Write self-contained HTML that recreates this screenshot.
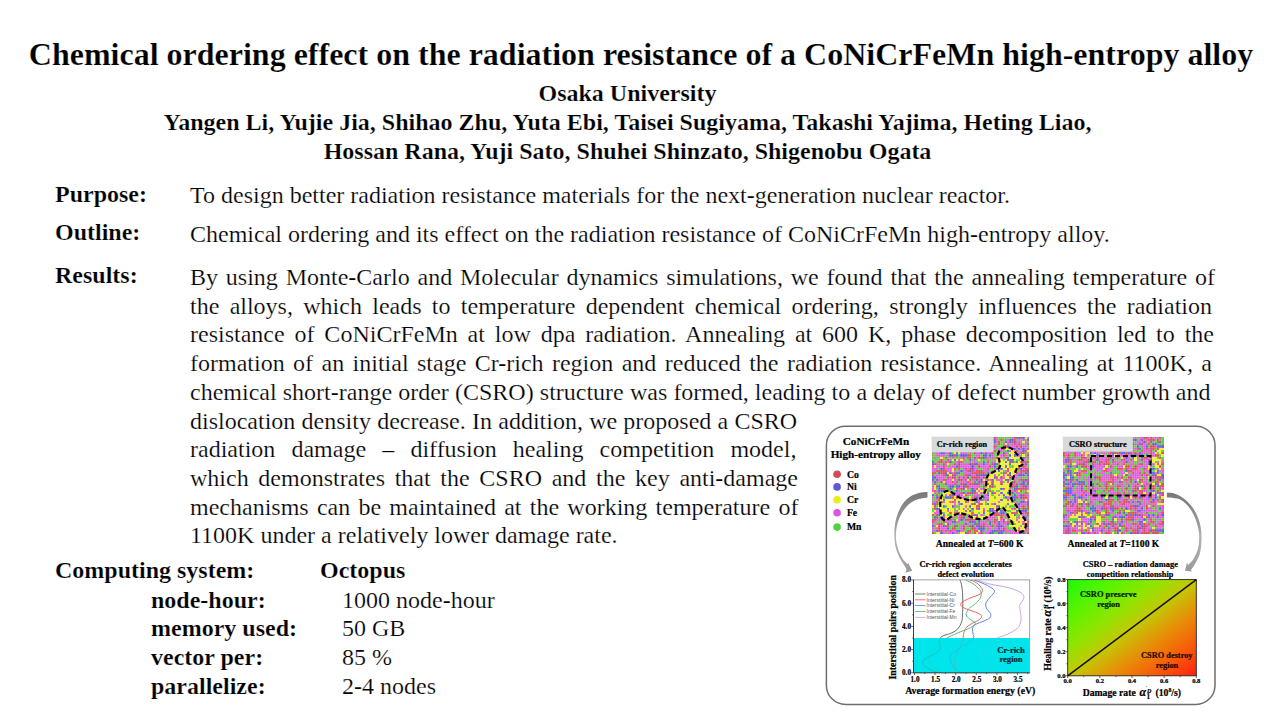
<!DOCTYPE html>
<html><head><meta charset="utf-8">
<style>
html,body{margin:0;padding:0;background:#fff;}
body{width:1280px;height:720px;position:relative;overflow:hidden;-webkit-text-stroke:0.2px #fff;font-family:"Liberation Serif","Times New Roman",serif;color:#000;}
.a{position:absolute;white-space:nowrap;}
#title{left:0;width:1282px;text-align:center;top:34.5px;font-size:32px;font-weight:bold;line-height:38px;}
.hdr{left:0;width:1255px;text-align:center;font-size:24px;font-weight:bold;line-height:29px;}
.lbl{font-weight:bold;font-size:24px;line-height:29px;}
.txt{font-size:24px;line-height:29px;}
#res{position:absolute;left:190px;top:263px;width:1024px;font-size:24px;line-height:28.7px;}
#res .j{text-align:justify;text-align-last:justify;white-space:nowrap;}
#res .n{width:608px;}
</style></head><body>
<div class="a" id="title">Chemical ordering effect on the radiation resistance of a CoNiCrFeMn high-entropy alloy</div>
<div class="a hdr" style="top:79px">Osaka University</div>
<div class="a hdr" style="top:108px">Yangen Li, Yujie Jia, Shihao Zhu, Yuta Ebi, Taisei Sugiyama, Takashi Yajima, Heting Liao,</div>
<div class="a hdr" style="top:137px">Hossan Rana, Yuji Sato, Shuhei Shinzato, Shigenobu Ogata</div>

<div class="a lbl" style="left:55px;top:180px">Purpose:</div>
<div class="a txt" style="left:190px;top:181px">To design better radiation resistance materials for the next-generation nuclear reactor.</div>
<div class="a lbl" style="left:55px;top:218px">Outline:</div>
<div class="a txt" style="left:190px;top:220px">Chemical ordering and its effect on the radiation resistance of CoNiCrFeMn high-entropy alloy.</div>
<div class="a lbl" style="left:55px;top:261px">Results:</div>

<div id="res">
<div class="j" style="width:1025px">By using Monte-Carlo and Molecular dynamics simulations, we found that the annealing temperature of</div>
<div class="j" style="width:1022px">the alloys, which leads to temperature dependent chemical ordering, strongly influences the radiation</div>
<div class="j" style="width:1024px">resistance of CoNiCrFeMn at low dpa radiation. Annealing at 600 K, phase decomposition led to the</div>
<div class="j" style="width:1022px">formation of an initial stage Cr-rich region and reduced the radiation resistance. Annealing at 1100K, a</div>
<div class="j" style="width:1020.5px">chemical short-range order (CSRO) structure was formed, leading to a delay of defect number growth and</div>
<div class="j n" style="width:607.2px">dislocation density decrease. In addition, we proposed a CSRO</div>
<div class="j n" style="width:606.4px">radiation damage – diffusion healing competition model,</div>
<div class="j n" style="width:608px">which demonstrates that the CSRO and the key anti-damage</div>
<div class="j n" style="width:608.4px">mechanisms can be maintained at the working temperature of</div>
<div class="n">1100K under a relatively lower damage rate.</div>
</div>

<div class="a lbl" style="left:55px;top:556px">Computing system:</div>
<div class="a lbl" style="left:320px;top:556px">Octopus</div>
<div class="a lbl" style="left:151px;top:586px">node-hour:</div>
<div class="a txt" style="left:342px;top:586px">1000 node-hour</div>
<div class="a lbl" style="left:151px;top:614px">memory used:</div>
<div class="a txt" style="left:342px;top:614px">50 GB</div>
<div class="a lbl" style="left:151px;top:643px">vector per:</div>
<div class="a txt" style="left:342px;top:643px">85 %</div>
<div class="a lbl" style="left:151px;top:672px">parallelize:</div>
<div class="a txt" style="left:342px;top:672px">2-4 nodes</div>
<!--FIG--><svg id="fig" width="1280" height="720" viewBox="0 0 1280 720" style="position:absolute;left:0;top:0" font-family="Liberation Serif, Times New Roman, serif" font-weight="bold">
<style>#fig text{stroke:#000;stroke-width:0.22px;stroke-linejoin:round}#fig .lg text{stroke:none}</style>
<defs>
<filter id="bl" x="-5%" y="-5%" width="110%" height="110%"><feGaussianBlur stdDeviation="0.4"/></filter>
<linearGradient id="gr" x1="0" y1="0" x2="1" y2="1">
<stop offset="0" stop-color="#1ef80a"/>
<stop offset="0.16" stop-color="#50f500"/>
<stop offset="0.35" stop-color="#8ce600"/>
<stop offset="0.5" stop-color="#c3c805"/>
<stop offset="0.67" stop-color="#e88c08"/>
<stop offset="0.86" stop-color="#fa500a"/>
<stop offset="1" stop-color="#ff2010"/>
</linearGradient>
<linearGradient id="ag" x1="0" y1="0" x2="0" y2="1">
<stop offset="0" stop-color="#787878"/>
<stop offset="0.45" stop-color="#a0a0a0"/>
<stop offset="0.55" stop-color="#b4b4b4"/>
<stop offset="1" stop-color="#9a9a9a"/>
</linearGradient>
</defs>
<rect x="826.4" y="426.2" width="388.6" height="278.2" rx="19" ry="19" fill="none" stroke="#6e6e6e" stroke-width="1.5"/>
<text x="876" y="444.5" font-size="11.2" text-anchor="middle">CoNiCrFeMn</text>
<text x="875.8" y="457.8" font-size="11.2" text-anchor="middle">High-entropy alloy</text>
<g>
<circle cx="837.1" cy="474.3" r="3.8" fill="#d44a55"/>
<circle cx="837.1" cy="486.9" r="3.8" fill="#5a5ad8"/>
<circle cx="837.1" cy="499.8" r="3.8" fill="#ecec1c"/>
<circle cx="837.1" cy="512.8" r="3.8" fill="#e055e0"/>
<circle cx="837.1" cy="527.1" r="3.8" fill="#52d040"/>
</g>
<g font-size="9.7">
<text x="846.9" y="477.6">Co</text>
<text x="846.9" y="490.2">Ni</text>
<text x="846.9" y="503.1">Cr</text>
<text x="846.9" y="516.1">Fe</text>
<text x="846.9" y="530.4">Mn</text>
</g>
<g filter="url(#bl)">
<g transform="translate(931.60 436.60) scale(2.2159 2.2159)" shape-rendering="crispEdges"><path fill="#d44a55" d="M0 0h1v1h-1zM18 0h1v1h-1zM24 0h1v1h-1zM28 0h1v1h-1zM37 0h1v1h-1zM38 0h1v1h-1zM40 0h1v1h-1zM8 1h1v1h-1zM12 1h1v1h-1zM18 1h1v1h-1zM19 1h1v1h-1zM27 1h1v1h-1zM31 1h1v1h-1zM37 1h1v1h-1zM1 2h1v1h-1zM3 2h1v1h-1zM4 2h1v1h-1zM14 2h1v1h-1zM19 2h1v1h-1zM30 2h1v1h-1zM36 2h1v1h-1zM3 3h1v1h-1zM10 3h1v1h-1zM14 3h1v1h-1zM16 3h1v1h-1zM26 3h1v1h-1zM30 3h1v1h-1zM37 3h1v1h-1zM39 3h1v1h-1zM43 3h1v1h-1zM3 4h1v1h-1zM12 4h1v1h-1zM28 4h1v1h-1zM32 4h1v1h-1zM33 4h1v1h-1zM38 4h1v1h-1zM40 4h1v1h-1zM6 5h1v1h-1zM22 5h1v1h-1zM32 5h1v1h-1zM36 5h1v1h-1zM43 5h1v1h-1zM1 6h1v1h-1zM4 6h1v1h-1zM9 6h1v1h-1zM17 6h1v1h-1zM20 6h1v1h-1zM22 6h1v1h-1zM23 6h1v1h-1zM24 6h1v1h-1zM26 6h1v1h-1zM27 6h1v1h-1zM28 6h1v1h-1zM30 6h1v1h-1zM38 6h1v1h-1zM42 6h1v1h-1zM19 7h1v1h-1zM27 7h1v1h-1zM30 7h1v1h-1zM40 7h1v1h-1zM41 7h1v1h-1zM10 8h1v1h-1zM16 8h1v1h-1zM17 8h1v1h-1zM32 8h1v1h-1zM43 8h1v1h-1zM6 9h1v1h-1zM14 9h1v1h-1zM16 9h1v1h-1zM17 9h1v1h-1zM21 9h1v1h-1zM22 9h1v1h-1zM24 9h1v1h-1zM29 9h1v1h-1zM33 9h1v1h-1zM4 10h1v1h-1zM7 10h1v1h-1zM3 11h1v1h-1zM4 11h1v1h-1zM6 11h1v1h-1zM12 11h1v1h-1zM13 11h1v1h-1zM25 11h1v1h-1zM35 11h1v1h-1zM40 11h1v1h-1zM41 11h1v1h-1zM42 11h1v1h-1zM43 11h1v1h-1zM1 12h1v1h-1zM5 12h1v1h-1zM10 12h1v1h-1zM18 12h1v1h-1zM27 12h1v1h-1zM5 13h1v1h-1zM12 13h1v1h-1zM21 13h1v1h-1zM26 13h1v1h-1zM30 13h1v1h-1zM39 13h1v1h-1zM41 13h1v1h-1zM5 14h1v1h-1zM10 14h1v1h-1zM12 14h1v1h-1zM15 14h1v1h-1zM17 14h1v1h-1zM25 14h1v1h-1zM34 14h1v1h-1zM39 14h1v1h-1zM42 14h1v1h-1zM43 14h1v1h-1zM2 15h1v1h-1zM3 15h1v1h-1zM4 15h1v1h-1zM5 15h1v1h-1zM6 15h1v1h-1zM16 15h1v1h-1zM18 15h1v1h-1zM20 15h1v1h-1zM21 15h1v1h-1zM22 15h1v1h-1zM34 15h1v1h-1zM40 15h1v1h-1zM41 15h1v1h-1zM42 15h1v1h-1zM0 16h1v1h-1zM1 16h1v1h-1zM4 16h1v1h-1zM5 16h1v1h-1zM10 16h1v1h-1zM18 16h1v1h-1zM19 16h1v1h-1zM20 16h1v1h-1zM21 16h1v1h-1zM22 16h1v1h-1zM23 16h1v1h-1zM32 16h1v1h-1zM33 16h1v1h-1zM38 16h1v1h-1zM40 16h1v1h-1zM43 16h1v1h-1zM0 17h1v1h-1zM5 17h1v1h-1zM7 17h1v1h-1zM9 17h1v1h-1zM15 17h1v1h-1zM16 17h1v1h-1zM21 17h1v1h-1zM34 17h1v1h-1zM7 18h1v1h-1zM9 18h1v1h-1zM10 18h1v1h-1zM12 18h1v1h-1zM14 18h1v1h-1zM18 18h1v1h-1zM19 18h1v1h-1zM20 18h1v1h-1zM21 18h1v1h-1zM23 18h1v1h-1zM29 18h1v1h-1zM31 18h1v1h-1zM35 18h1v1h-1zM5 19h1v1h-1zM6 19h1v1h-1zM13 19h1v1h-1zM15 19h1v1h-1zM17 19h1v1h-1zM25 19h1v1h-1zM40 19h1v1h-1zM41 19h1v1h-1zM43 19h1v1h-1zM4 20h1v1h-1zM9 20h1v1h-1zM11 20h1v1h-1zM16 20h1v1h-1zM19 20h1v1h-1zM22 20h1v1h-1zM27 20h1v1h-1zM31 20h1v1h-1zM34 20h1v1h-1zM37 20h1v1h-1zM43 20h1v1h-1zM1 21h1v1h-1zM10 21h1v1h-1zM13 21h1v1h-1zM14 21h1v1h-1zM17 21h1v1h-1zM18 21h1v1h-1zM21 21h1v1h-1zM25 21h1v1h-1zM31 21h1v1h-1zM35 21h1v1h-1zM36 21h1v1h-1zM38 21h1v1h-1zM2 22h1v1h-1zM15 22h1v1h-1zM16 22h1v1h-1zM23 22h1v1h-1zM26 22h1v1h-1zM27 22h1v1h-1zM36 22h1v1h-1zM37 22h1v1h-1zM41 22h1v1h-1zM4 23h1v1h-1zM5 23h1v1h-1zM11 23h1v1h-1zM13 23h1v1h-1zM20 23h1v1h-1zM23 23h1v1h-1zM32 23h1v1h-1zM39 23h1v1h-1zM40 23h1v1h-1zM41 23h1v1h-1zM42 23h1v1h-1zM1 24h1v1h-1zM26 24h1v1h-1zM35 24h1v1h-1zM37 24h1v1h-1zM40 24h1v1h-1zM3 25h1v1h-1zM10 25h1v1h-1zM13 25h1v1h-1zM16 25h1v1h-1zM17 25h1v1h-1zM19 25h1v1h-1zM28 25h1v1h-1zM42 25h1v1h-1zM2 26h1v1h-1zM8 26h1v1h-1zM15 26h1v1h-1zM35 26h1v1h-1zM41 26h1v1h-1zM3 27h1v1h-1zM9 27h1v1h-1zM11 27h1v1h-1zM19 27h1v1h-1zM38 27h1v1h-1zM41 27h1v1h-1zM42 27h1v1h-1zM3 28h1v1h-1zM10 28h1v1h-1zM17 28h1v1h-1zM34 28h1v1h-1zM2 29h1v1h-1zM4 29h1v1h-1zM9 29h1v1h-1zM15 29h1v1h-1zM0 30h1v1h-1zM2 30h1v1h-1zM18 30h1v1h-1zM19 30h1v1h-1zM21 30h1v1h-1zM22 30h1v1h-1zM1 31h1v1h-1zM20 31h1v1h-1zM21 31h1v1h-1zM29 31h1v1h-1zM41 31h1v1h-1zM43 31h1v1h-1zM1 32h1v1h-1zM20 32h1v1h-1zM37 32h1v1h-1zM41 32h1v1h-1zM43 32h1v1h-1zM15 33h1v1h-1zM23 33h1v1h-1zM8 34h1v1h-1zM10 34h1v1h-1zM11 34h1v1h-1zM12 34h1v1h-1zM18 34h1v1h-1zM29 34h1v1h-1zM36 34h1v1h-1zM37 34h1v1h-1zM38 34h1v1h-1zM42 34h1v1h-1zM43 34h1v1h-1zM0 35h1v1h-1zM2 35h1v1h-1zM13 35h1v1h-1zM14 35h1v1h-1zM18 35h1v1h-1zM28 35h1v1h-1zM29 35h1v1h-1zM30 35h1v1h-1zM31 35h1v1h-1zM43 35h1v1h-1zM2 36h1v1h-1zM5 36h1v1h-1zM13 36h1v1h-1zM20 36h1v1h-1zM31 36h1v1h-1zM0 37h1v1h-1zM1 37h1v1h-1zM5 37h1v1h-1zM8 37h1v1h-1zM10 37h1v1h-1zM15 37h1v1h-1zM16 37h1v1h-1zM17 37h1v1h-1zM18 37h1v1h-1zM25 37h1v1h-1zM28 37h1v1h-1zM29 37h1v1h-1zM0 38h1v1h-1zM5 38h1v1h-1zM28 38h1v1h-1zM32 38h1v1h-1zM34 38h1v1h-1zM35 38h1v1h-1zM36 38h1v1h-1zM43 38h1v1h-1zM3 39h1v1h-1zM4 39h1v1h-1zM20 39h1v1h-1zM23 39h1v1h-1zM41 39h1v1h-1zM42 39h1v1h-1zM43 39h1v1h-1zM3 40h1v1h-1zM6 40h1v1h-1zM7 40h1v1h-1zM11 40h1v1h-1zM14 40h1v1h-1zM17 40h1v1h-1zM22 40h1v1h-1zM23 40h1v1h-1zM27 40h1v1h-1zM29 40h1v1h-1zM42 40h1v1h-1zM3 41h1v1h-1zM9 41h1v1h-1zM10 41h1v1h-1zM14 41h1v1h-1zM18 41h1v1h-1zM19 41h1v1h-1zM32 41h1v1h-1zM42 41h1v1h-1zM3 42h1v1h-1zM4 42h1v1h-1zM6 42h1v1h-1zM8 42h1v1h-1zM16 42h1v1h-1zM17 42h1v1h-1zM19 42h1v1h-1zM20 42h1v1h-1zM30 42h1v1h-1zM32 42h1v1h-1zM39 42h1v1h-1zM40 42h1v1h-1zM41 42h1v1h-1zM0 43h1v1h-1zM16 43h1v1h-1zM19 43h1v1h-1zM22 43h1v1h-1zM43 43h1v1h-1z"/><path fill="#5a5ad8" d="M1 0h1v1h-1zM21 0h1v1h-1zM27 0h1v1h-1zM39 0h1v1h-1zM41 0h1v1h-1zM7 1h1v1h-1zM13 1h1v1h-1zM15 1h1v1h-1zM17 1h1v1h-1zM21 1h1v1h-1zM23 1h1v1h-1zM28 1h1v1h-1zM35 1h1v1h-1zM36 1h1v1h-1zM43 1h1v1h-1zM0 2h1v1h-1zM5 2h1v1h-1zM6 2h1v1h-1zM7 2h1v1h-1zM17 2h1v1h-1zM23 2h1v1h-1zM26 2h1v1h-1zM28 2h1v1h-1zM33 2h1v1h-1zM35 2h1v1h-1zM37 2h1v1h-1zM23 3h1v1h-1zM25 3h1v1h-1zM1 4h1v1h-1zM5 4h1v1h-1zM13 4h1v1h-1zM18 4h1v1h-1zM19 4h1v1h-1zM21 4h1v1h-1zM23 4h1v1h-1zM27 4h1v1h-1zM34 4h1v1h-1zM2 5h1v1h-1zM9 5h1v1h-1zM13 5h1v1h-1zM26 5h1v1h-1zM37 5h1v1h-1zM39 5h1v1h-1zM41 5h1v1h-1zM2 6h1v1h-1zM19 6h1v1h-1zM25 6h1v1h-1zM34 6h1v1h-1zM41 6h1v1h-1zM4 7h1v1h-1zM5 7h1v1h-1zM8 7h1v1h-1zM11 7h1v1h-1zM22 7h1v1h-1zM24 7h1v1h-1zM32 7h1v1h-1zM8 8h1v1h-1zM9 8h1v1h-1zM11 8h1v1h-1zM13 8h1v1h-1zM14 8h1v1h-1zM15 8h1v1h-1zM23 8h1v1h-1zM24 8h1v1h-1zM26 8h1v1h-1zM35 8h1v1h-1zM37 8h1v1h-1zM19 9h1v1h-1zM23 9h1v1h-1zM34 9h1v1h-1zM41 9h1v1h-1zM10 10h1v1h-1zM17 10h1v1h-1zM34 10h1v1h-1zM35 10h1v1h-1zM36 10h1v1h-1zM0 11h1v1h-1zM8 11h1v1h-1zM23 11h1v1h-1zM33 11h1v1h-1zM36 11h1v1h-1zM38 11h1v1h-1zM0 12h1v1h-1zM12 12h1v1h-1zM17 12h1v1h-1zM19 12h1v1h-1zM20 12h1v1h-1zM23 12h1v1h-1zM28 12h1v1h-1zM29 12h1v1h-1zM35 12h1v1h-1zM42 12h1v1h-1zM11 13h1v1h-1zM18 13h1v1h-1zM28 13h1v1h-1zM33 13h1v1h-1zM4 14h1v1h-1zM18 14h1v1h-1zM29 14h1v1h-1zM31 14h1v1h-1zM40 14h1v1h-1zM13 15h1v1h-1zM17 15h1v1h-1zM30 15h1v1h-1zM43 15h1v1h-1zM3 16h1v1h-1zM6 16h1v1h-1zM8 16h1v1h-1zM11 16h1v1h-1zM12 16h1v1h-1zM25 16h1v1h-1zM35 16h1v1h-1zM42 16h1v1h-1zM6 17h1v1h-1zM10 17h1v1h-1zM17 17h1v1h-1zM20 17h1v1h-1zM22 17h1v1h-1zM23 17h1v1h-1zM24 17h1v1h-1zM35 17h1v1h-1zM39 17h1v1h-1zM40 17h1v1h-1zM41 17h1v1h-1zM43 17h1v1h-1zM0 18h1v1h-1zM1 18h1v1h-1zM16 18h1v1h-1zM28 18h1v1h-1zM36 18h1v1h-1zM0 19h1v1h-1zM2 19h1v1h-1zM12 19h1v1h-1zM20 19h1v1h-1zM22 19h1v1h-1zM27 19h1v1h-1zM33 19h1v1h-1zM34 19h1v1h-1zM42 19h1v1h-1zM1 20h1v1h-1zM21 20h1v1h-1zM36 20h1v1h-1zM41 20h1v1h-1zM6 21h1v1h-1zM15 21h1v1h-1zM19 21h1v1h-1zM20 21h1v1h-1zM27 21h1v1h-1zM40 21h1v1h-1zM41 21h1v1h-1zM43 21h1v1h-1zM3 22h1v1h-1zM8 22h1v1h-1zM9 22h1v1h-1zM11 22h1v1h-1zM12 22h1v1h-1zM14 22h1v1h-1zM38 22h1v1h-1zM42 22h1v1h-1zM3 23h1v1h-1zM8 23h1v1h-1zM14 23h1v1h-1zM18 23h1v1h-1zM31 23h1v1h-1zM37 23h1v1h-1zM38 23h1v1h-1zM3 24h1v1h-1zM4 24h1v1h-1zM5 24h1v1h-1zM6 24h1v1h-1zM11 24h1v1h-1zM18 24h1v1h-1zM19 24h1v1h-1zM14 25h1v1h-1zM18 25h1v1h-1zM25 25h1v1h-1zM27 25h1v1h-1zM31 25h1v1h-1zM34 25h1v1h-1zM36 25h1v1h-1zM0 26h1v1h-1zM9 26h1v1h-1zM12 26h1v1h-1zM25 26h1v1h-1zM32 26h1v1h-1zM37 26h1v1h-1zM40 26h1v1h-1zM2 27h1v1h-1zM6 27h1v1h-1zM7 27h1v1h-1zM8 27h1v1h-1zM20 27h1v1h-1zM23 27h1v1h-1zM33 27h1v1h-1zM36 27h1v1h-1zM37 27h1v1h-1zM40 27h1v1h-1zM5 28h1v1h-1zM20 28h1v1h-1zM22 28h1v1h-1zM25 28h1v1h-1zM31 28h1v1h-1zM37 28h1v1h-1zM12 29h1v1h-1zM20 29h1v1h-1zM40 29h1v1h-1zM41 29h1v1h-1zM43 29h1v1h-1zM1 30h1v1h-1zM13 30h1v1h-1zM25 30h1v1h-1zM28 30h1v1h-1zM34 30h1v1h-1zM39 30h1v1h-1zM43 30h1v1h-1zM5 31h1v1h-1zM9 31h1v1h-1zM17 31h1v1h-1zM30 31h1v1h-1zM2 32h1v1h-1zM3 32h1v1h-1zM7 32h1v1h-1zM18 32h1v1h-1zM21 32h1v1h-1zM26 32h1v1h-1zM27 32h1v1h-1zM29 32h1v1h-1zM39 32h1v1h-1zM42 32h1v1h-1zM17 33h1v1h-1zM26 33h1v1h-1zM27 33h1v1h-1zM31 33h1v1h-1zM38 33h1v1h-1zM40 33h1v1h-1zM41 33h1v1h-1zM42 33h1v1h-1zM4 34h1v1h-1zM23 34h1v1h-1zM28 34h1v1h-1zM31 34h1v1h-1zM32 34h1v1h-1zM3 35h1v1h-1zM5 35h1v1h-1zM19 35h1v1h-1zM20 35h1v1h-1zM37 35h1v1h-1zM1 36h1v1h-1zM4 36h1v1h-1zM14 36h1v1h-1zM17 36h1v1h-1zM42 36h1v1h-1zM7 37h1v1h-1zM13 37h1v1h-1zM21 37h1v1h-1zM32 37h1v1h-1zM9 38h1v1h-1zM10 38h1v1h-1zM17 38h1v1h-1zM18 38h1v1h-1zM19 38h1v1h-1zM21 38h1v1h-1zM26 38h1v1h-1zM30 38h1v1h-1zM7 39h1v1h-1zM15 39h1v1h-1zM19 39h1v1h-1zM21 39h1v1h-1zM26 39h1v1h-1zM30 39h1v1h-1zM34 39h1v1h-1zM0 40h1v1h-1zM5 40h1v1h-1zM10 40h1v1h-1zM18 40h1v1h-1zM20 40h1v1h-1zM21 40h1v1h-1zM30 40h1v1h-1zM31 40h1v1h-1zM43 40h1v1h-1zM7 41h1v1h-1zM21 41h1v1h-1zM22 41h1v1h-1zM23 41h1v1h-1zM30 41h1v1h-1zM2 42h1v1h-1zM11 42h1v1h-1zM12 42h1v1h-1zM22 42h1v1h-1zM27 42h1v1h-1zM28 42h1v1h-1zM29 42h1v1h-1zM31 42h1v1h-1zM4 43h1v1h-1zM9 43h1v1h-1zM15 43h1v1h-1zM26 43h1v1h-1zM27 43h1v1h-1zM30 43h1v1h-1zM31 43h1v1h-1zM41 43h1v1h-1z"/><path fill="#f0ee1c" d="M5 0h1v1h-1zM11 0h1v1h-1zM12 0h1v1h-1zM22 0h1v1h-1zM42 0h1v1h-1zM5 1h1v1h-1zM20 1h1v1h-1zM15 2h1v1h-1zM21 2h1v1h-1zM41 2h1v1h-1zM1 3h1v1h-1zM21 3h1v1h-1zM33 3h1v1h-1zM7 4h1v1h-1zM9 4h1v1h-1zM4 5h1v1h-1zM12 5h1v1h-1zM17 5h1v1h-1zM33 5h1v1h-1zM34 5h1v1h-1zM35 5h1v1h-1zM3 6h1v1h-1zM6 6h1v1h-1zM36 6h1v1h-1zM43 6h1v1h-1zM10 7h1v1h-1zM12 7h1v1h-1zM35 7h1v1h-1zM36 7h1v1h-1zM37 7h1v1h-1zM30 8h1v1h-1zM36 8h1v1h-1zM41 8h1v1h-1zM4 9h1v1h-1zM30 9h1v1h-1zM35 9h1v1h-1zM36 9h1v1h-1zM37 9h1v1h-1zM38 9h1v1h-1zM39 9h1v1h-1zM9 10h1v1h-1zM11 10h1v1h-1zM13 10h1v1h-1zM21 10h1v1h-1zM29 10h1v1h-1zM30 10h1v1h-1zM31 10h1v1h-1zM33 10h1v1h-1zM37 10h1v1h-1zM40 10h1v1h-1zM29 11h1v1h-1zM31 11h1v1h-1zM32 11h1v1h-1zM34 11h1v1h-1zM39 11h1v1h-1zM7 12h1v1h-1zM31 12h1v1h-1zM32 12h1v1h-1zM33 12h1v1h-1zM34 12h1v1h-1zM36 12h1v1h-1zM37 12h1v1h-1zM38 12h1v1h-1zM39 12h1v1h-1zM40 12h1v1h-1zM1 13h1v1h-1zM31 13h1v1h-1zM32 13h1v1h-1zM34 13h1v1h-1zM37 13h1v1h-1zM38 13h1v1h-1zM9 14h1v1h-1zM30 14h1v1h-1zM32 14h1v1h-1zM33 14h1v1h-1zM35 14h1v1h-1zM36 14h1v1h-1zM37 14h1v1h-1zM9 15h1v1h-1zM29 15h1v1h-1zM31 15h1v1h-1zM35 15h1v1h-1zM36 15h1v1h-1zM7 16h1v1h-1zM28 16h1v1h-1zM29 16h1v1h-1zM30 16h1v1h-1zM34 16h1v1h-1zM36 16h1v1h-1zM37 16h1v1h-1zM8 17h1v1h-1zM25 17h1v1h-1zM26 17h1v1h-1zM27 17h1v1h-1zM29 17h1v1h-1zM31 17h1v1h-1zM33 17h1v1h-1zM36 17h1v1h-1zM25 18h1v1h-1zM26 18h1v1h-1zM27 18h1v1h-1zM30 18h1v1h-1zM33 18h1v1h-1zM34 18h1v1h-1zM9 19h1v1h-1zM16 19h1v1h-1zM23 19h1v1h-1zM28 19h1v1h-1zM32 19h1v1h-1zM36 19h1v1h-1zM5 20h1v1h-1zM25 20h1v1h-1zM26 20h1v1h-1zM28 20h1v1h-1zM29 20h1v1h-1zM30 20h1v1h-1zM33 20h1v1h-1zM35 20h1v1h-1zM26 21h1v1h-1zM28 21h1v1h-1zM29 21h1v1h-1zM30 21h1v1h-1zM32 21h1v1h-1zM33 21h1v1h-1zM34 21h1v1h-1zM1 22h1v1h-1zM25 22h1v1h-1zM29 22h1v1h-1zM30 22h1v1h-1zM31 22h1v1h-1zM32 22h1v1h-1zM33 22h1v1h-1zM34 22h1v1h-1zM1 23h1v1h-1zM10 23h1v1h-1zM15 23h1v1h-1zM21 23h1v1h-1zM24 23h1v1h-1zM27 23h1v1h-1zM28 23h1v1h-1zM29 23h1v1h-1zM30 23h1v1h-1zM33 23h1v1h-1zM34 23h1v1h-1zM20 24h1v1h-1zM22 24h1v1h-1zM24 24h1v1h-1zM28 24h1v1h-1zM31 24h1v1h-1zM32 24h1v1h-1zM33 24h1v1h-1zM34 24h1v1h-1zM39 24h1v1h-1zM43 24h1v1h-1zM0 25h1v1h-1zM5 25h1v1h-1zM6 25h1v1h-1zM7 25h1v1h-1zM8 25h1v1h-1zM9 25h1v1h-1zM21 25h1v1h-1zM24 25h1v1h-1zM26 25h1v1h-1zM29 25h1v1h-1zM30 25h1v1h-1zM32 25h1v1h-1zM33 25h1v1h-1zM5 26h1v1h-1zM7 26h1v1h-1zM14 26h1v1h-1zM26 26h1v1h-1zM28 26h1v1h-1zM29 26h1v1h-1zM31 26h1v1h-1zM33 26h1v1h-1zM34 26h1v1h-1zM4 27h1v1h-1zM10 27h1v1h-1zM12 27h1v1h-1zM17 27h1v1h-1zM22 27h1v1h-1zM26 27h1v1h-1zM27 27h1v1h-1zM29 27h1v1h-1zM30 27h1v1h-1zM31 27h1v1h-1zM4 28h1v1h-1zM6 28h1v1h-1zM7 28h1v1h-1zM8 28h1v1h-1zM9 28h1v1h-1zM11 28h1v1h-1zM12 28h1v1h-1zM13 28h1v1h-1zM14 28h1v1h-1zM15 28h1v1h-1zM26 28h1v1h-1zM27 28h1v1h-1zM28 28h1v1h-1zM29 28h1v1h-1zM30 28h1v1h-1zM32 28h1v1h-1zM33 28h1v1h-1zM35 28h1v1h-1zM42 28h1v1h-1zM6 29h1v1h-1zM7 29h1v1h-1zM11 29h1v1h-1zM13 29h1v1h-1zM14 29h1v1h-1zM17 29h1v1h-1zM18 29h1v1h-1zM22 29h1v1h-1zM23 29h1v1h-1zM25 29h1v1h-1zM26 29h1v1h-1zM27 29h1v1h-1zM28 29h1v1h-1zM29 29h1v1h-1zM31 29h1v1h-1zM32 29h1v1h-1zM33 29h1v1h-1zM34 29h1v1h-1zM35 29h1v1h-1zM4 30h1v1h-1zM5 30h1v1h-1zM6 30h1v1h-1zM7 30h1v1h-1zM8 30h1v1h-1zM9 30h1v1h-1zM11 30h1v1h-1zM14 30h1v1h-1zM15 30h1v1h-1zM16 30h1v1h-1zM17 30h1v1h-1zM20 30h1v1h-1zM23 30h1v1h-1zM26 30h1v1h-1zM29 30h1v1h-1zM30 30h1v1h-1zM31 30h1v1h-1zM32 30h1v1h-1zM33 30h1v1h-1zM35 30h1v1h-1zM36 30h1v1h-1zM37 30h1v1h-1zM0 31h1v1h-1zM3 31h1v1h-1zM4 31h1v1h-1zM7 31h1v1h-1zM8 31h1v1h-1zM13 31h1v1h-1zM14 31h1v1h-1zM16 31h1v1h-1zM18 31h1v1h-1zM19 31h1v1h-1zM22 31h1v1h-1zM23 31h1v1h-1zM24 31h1v1h-1zM25 31h1v1h-1zM26 31h1v1h-1zM27 31h1v1h-1zM28 31h1v1h-1zM31 31h1v1h-1zM32 31h1v1h-1zM34 31h1v1h-1zM4 32h1v1h-1zM5 32h1v1h-1zM6 32h1v1h-1zM8 32h1v1h-1zM9 32h1v1h-1zM11 32h1v1h-1zM13 32h1v1h-1zM15 32h1v1h-1zM17 32h1v1h-1zM19 32h1v1h-1zM22 32h1v1h-1zM24 32h1v1h-1zM25 32h1v1h-1zM28 32h1v1h-1zM30 32h1v1h-1zM32 32h1v1h-1zM33 32h1v1h-1zM34 32h1v1h-1zM35 32h1v1h-1zM38 32h1v1h-1zM1 33h1v1h-1zM4 33h1v1h-1zM5 33h1v1h-1zM6 33h1v1h-1zM8 33h1v1h-1zM9 33h1v1h-1zM12 33h1v1h-1zM13 33h1v1h-1zM14 33h1v1h-1zM16 33h1v1h-1zM19 33h1v1h-1zM20 33h1v1h-1zM21 33h1v1h-1zM22 33h1v1h-1zM24 33h1v1h-1zM30 33h1v1h-1zM33 33h1v1h-1zM36 33h1v1h-1zM37 33h1v1h-1zM39 33h1v1h-1zM0 34h1v1h-1zM6 34h1v1h-1zM7 34h1v1h-1zM9 34h1v1h-1zM13 34h1v1h-1zM14 34h1v1h-1zM15 34h1v1h-1zM16 34h1v1h-1zM17 34h1v1h-1zM19 34h1v1h-1zM20 34h1v1h-1zM22 34h1v1h-1zM24 34h1v1h-1zM25 34h1v1h-1zM27 34h1v1h-1zM34 34h1v1h-1zM35 34h1v1h-1zM39 34h1v1h-1zM40 34h1v1h-1zM4 35h1v1h-1zM6 35h1v1h-1zM9 35h1v1h-1zM17 35h1v1h-1zM21 35h1v1h-1zM24 35h1v1h-1zM25 35h1v1h-1zM34 35h1v1h-1zM35 35h1v1h-1zM36 35h1v1h-1zM40 35h1v1h-1zM6 36h1v1h-1zM7 36h1v1h-1zM18 36h1v1h-1zM19 36h1v1h-1zM21 36h1v1h-1zM22 36h1v1h-1zM23 36h1v1h-1zM30 36h1v1h-1zM35 36h1v1h-1zM36 36h1v1h-1zM37 36h1v1h-1zM40 36h1v1h-1zM11 37h1v1h-1zM30 37h1v1h-1zM33 37h1v1h-1zM36 37h1v1h-1zM37 37h1v1h-1zM39 37h1v1h-1zM40 37h1v1h-1zM41 37h1v1h-1zM37 38h1v1h-1zM38 38h1v1h-1zM40 38h1v1h-1zM42 38h1v1h-1zM6 39h1v1h-1zM38 39h1v1h-1zM39 39h1v1h-1zM40 39h1v1h-1zM2 40h1v1h-1zM35 40h1v1h-1zM36 40h1v1h-1zM37 40h1v1h-1zM38 40h1v1h-1zM39 40h1v1h-1zM41 40h1v1h-1zM38 41h1v1h-1zM40 41h1v1h-1zM41 41h1v1h-1zM21 42h1v1h-1zM38 42h1v1h-1zM2 43h1v1h-1zM3 43h1v1h-1zM13 43h1v1h-1zM14 43h1v1h-1zM20 43h1v1h-1z"/><path fill="#de55dc" d="M2 0h1v1h-1zM3 0h1v1h-1zM4 0h1v1h-1zM7 0h1v1h-1zM8 0h1v1h-1zM10 0h1v1h-1zM13 0h1v1h-1zM15 0h1v1h-1zM20 0h1v1h-1zM25 0h1v1h-1zM29 0h1v1h-1zM36 0h1v1h-1zM43 0h1v1h-1zM1 1h1v1h-1zM3 1h1v1h-1zM6 1h1v1h-1zM9 1h1v1h-1zM10 1h1v1h-1zM11 1h1v1h-1zM22 1h1v1h-1zM24 1h1v1h-1zM26 1h1v1h-1zM29 1h1v1h-1zM33 1h1v1h-1zM34 1h1v1h-1zM39 1h1v1h-1zM41 1h1v1h-1zM8 2h1v1h-1zM9 2h1v1h-1zM12 2h1v1h-1zM13 2h1v1h-1zM16 2h1v1h-1zM18 2h1v1h-1zM20 2h1v1h-1zM29 2h1v1h-1zM34 2h1v1h-1zM38 2h1v1h-1zM39 2h1v1h-1zM40 2h1v1h-1zM42 2h1v1h-1zM0 3h1v1h-1zM2 3h1v1h-1zM4 3h1v1h-1zM5 3h1v1h-1zM6 3h1v1h-1zM8 3h1v1h-1zM9 3h1v1h-1zM15 3h1v1h-1zM24 3h1v1h-1zM28 3h1v1h-1zM32 3h1v1h-1zM34 3h1v1h-1zM36 3h1v1h-1zM38 3h1v1h-1zM40 3h1v1h-1zM42 3h1v1h-1zM0 4h1v1h-1zM4 4h1v1h-1zM6 4h1v1h-1zM8 4h1v1h-1zM10 4h1v1h-1zM15 4h1v1h-1zM16 4h1v1h-1zM17 4h1v1h-1zM24 4h1v1h-1zM25 4h1v1h-1zM29 4h1v1h-1zM35 4h1v1h-1zM36 4h1v1h-1zM37 4h1v1h-1zM39 4h1v1h-1zM41 4h1v1h-1zM42 4h1v1h-1zM3 5h1v1h-1zM7 5h1v1h-1zM8 5h1v1h-1zM10 5h1v1h-1zM11 5h1v1h-1zM14 5h1v1h-1zM16 5h1v1h-1zM19 5h1v1h-1zM21 5h1v1h-1zM25 5h1v1h-1zM28 5h1v1h-1zM30 5h1v1h-1zM31 5h1v1h-1zM38 5h1v1h-1zM40 5h1v1h-1zM42 5h1v1h-1zM5 6h1v1h-1zM10 6h1v1h-1zM11 6h1v1h-1zM12 6h1v1h-1zM13 6h1v1h-1zM16 6h1v1h-1zM18 6h1v1h-1zM21 6h1v1h-1zM31 6h1v1h-1zM35 6h1v1h-1zM37 6h1v1h-1zM40 6h1v1h-1zM0 7h1v1h-1zM2 7h1v1h-1zM3 7h1v1h-1zM6 7h1v1h-1zM7 7h1v1h-1zM13 7h1v1h-1zM14 7h1v1h-1zM15 7h1v1h-1zM17 7h1v1h-1zM20 7h1v1h-1zM21 7h1v1h-1zM23 7h1v1h-1zM25 7h1v1h-1zM26 7h1v1h-1zM29 7h1v1h-1zM33 7h1v1h-1zM38 7h1v1h-1zM39 7h1v1h-1zM42 7h1v1h-1zM2 8h1v1h-1zM3 8h1v1h-1zM4 8h1v1h-1zM5 8h1v1h-1zM7 8h1v1h-1zM20 8h1v1h-1zM21 8h1v1h-1zM27 8h1v1h-1zM31 8h1v1h-1zM33 8h1v1h-1zM38 8h1v1h-1zM39 8h1v1h-1zM1 9h1v1h-1zM9 9h1v1h-1zM13 9h1v1h-1zM20 9h1v1h-1zM25 9h1v1h-1zM26 9h1v1h-1zM27 9h1v1h-1zM28 9h1v1h-1zM31 9h1v1h-1zM40 9h1v1h-1zM42 9h1v1h-1zM43 9h1v1h-1zM8 10h1v1h-1zM12 10h1v1h-1zM14 10h1v1h-1zM18 10h1v1h-1zM19 10h1v1h-1zM25 10h1v1h-1zM41 10h1v1h-1zM5 11h1v1h-1zM7 11h1v1h-1zM11 11h1v1h-1zM17 11h1v1h-1zM19 11h1v1h-1zM20 11h1v1h-1zM27 11h1v1h-1zM28 11h1v1h-1zM30 11h1v1h-1zM2 12h1v1h-1zM3 12h1v1h-1zM6 12h1v1h-1zM11 12h1v1h-1zM13 12h1v1h-1zM14 12h1v1h-1zM15 12h1v1h-1zM16 12h1v1h-1zM21 12h1v1h-1zM22 12h1v1h-1zM24 12h1v1h-1zM25 12h1v1h-1zM41 12h1v1h-1zM0 13h1v1h-1zM2 13h1v1h-1zM3 13h1v1h-1zM4 13h1v1h-1zM6 13h1v1h-1zM8 13h1v1h-1zM9 13h1v1h-1zM10 13h1v1h-1zM13 13h1v1h-1zM14 13h1v1h-1zM15 13h1v1h-1zM16 13h1v1h-1zM17 13h1v1h-1zM19 13h1v1h-1zM22 13h1v1h-1zM23 13h1v1h-1zM24 13h1v1h-1zM25 13h1v1h-1zM27 13h1v1h-1zM42 13h1v1h-1zM0 14h1v1h-1zM1 14h1v1h-1zM2 14h1v1h-1zM6 14h1v1h-1zM7 14h1v1h-1zM8 14h1v1h-1zM14 14h1v1h-1zM16 14h1v1h-1zM19 14h1v1h-1zM20 14h1v1h-1zM23 14h1v1h-1zM24 14h1v1h-1zM28 14h1v1h-1zM41 14h1v1h-1zM0 15h1v1h-1zM1 15h1v1h-1zM7 15h1v1h-1zM8 15h1v1h-1zM10 15h1v1h-1zM12 15h1v1h-1zM14 15h1v1h-1zM15 15h1v1h-1zM19 15h1v1h-1zM23 15h1v1h-1zM24 15h1v1h-1zM25 15h1v1h-1zM33 15h1v1h-1zM37 15h1v1h-1zM9 16h1v1h-1zM14 16h1v1h-1zM15 16h1v1h-1zM16 16h1v1h-1zM17 16h1v1h-1zM26 16h1v1h-1zM27 16h1v1h-1zM39 16h1v1h-1zM41 16h1v1h-1zM2 17h1v1h-1zM4 17h1v1h-1zM11 17h1v1h-1zM14 17h1v1h-1zM18 17h1v1h-1zM19 17h1v1h-1zM28 17h1v1h-1zM32 17h1v1h-1zM37 17h1v1h-1zM38 17h1v1h-1zM2 18h1v1h-1zM3 18h1v1h-1zM4 18h1v1h-1zM5 18h1v1h-1zM8 18h1v1h-1zM13 18h1v1h-1zM15 18h1v1h-1zM22 18h1v1h-1zM32 18h1v1h-1zM37 18h1v1h-1zM38 18h1v1h-1zM40 18h1v1h-1zM43 18h1v1h-1zM3 19h1v1h-1zM4 19h1v1h-1zM7 19h1v1h-1zM8 19h1v1h-1zM10 19h1v1h-1zM11 19h1v1h-1zM14 19h1v1h-1zM18 19h1v1h-1zM19 19h1v1h-1zM21 19h1v1h-1zM24 19h1v1h-1zM26 19h1v1h-1zM29 19h1v1h-1zM30 19h1v1h-1zM31 19h1v1h-1zM37 19h1v1h-1zM39 19h1v1h-1zM0 20h1v1h-1zM2 20h1v1h-1zM6 20h1v1h-1zM7 20h1v1h-1zM8 20h1v1h-1zM10 20h1v1h-1zM13 20h1v1h-1zM14 20h1v1h-1zM15 20h1v1h-1zM17 20h1v1h-1zM23 20h1v1h-1zM24 20h1v1h-1zM39 20h1v1h-1zM42 20h1v1h-1zM5 21h1v1h-1zM7 21h1v1h-1zM8 21h1v1h-1zM9 21h1v1h-1zM11 21h1v1h-1zM16 21h1v1h-1zM22 21h1v1h-1zM24 21h1v1h-1zM37 21h1v1h-1zM39 21h1v1h-1zM0 22h1v1h-1zM7 22h1v1h-1zM13 22h1v1h-1zM17 22h1v1h-1zM18 22h1v1h-1zM19 22h1v1h-1zM20 22h1v1h-1zM21 22h1v1h-1zM40 22h1v1h-1zM43 22h1v1h-1zM0 23h1v1h-1zM12 23h1v1h-1zM16 23h1v1h-1zM19 23h1v1h-1zM22 23h1v1h-1zM35 23h1v1h-1zM43 23h1v1h-1zM0 24h1v1h-1zM2 24h1v1h-1zM8 24h1v1h-1zM12 24h1v1h-1zM21 24h1v1h-1zM36 24h1v1h-1zM38 24h1v1h-1zM42 24h1v1h-1zM1 25h1v1h-1zM11 25h1v1h-1zM12 25h1v1h-1zM15 25h1v1h-1zM20 25h1v1h-1zM22 25h1v1h-1zM38 25h1v1h-1zM39 25h1v1h-1zM6 26h1v1h-1zM10 26h1v1h-1zM11 26h1v1h-1zM13 26h1v1h-1zM16 26h1v1h-1zM19 26h1v1h-1zM20 26h1v1h-1zM21 26h1v1h-1zM23 26h1v1h-1zM24 26h1v1h-1zM30 26h1v1h-1zM39 26h1v1h-1zM42 26h1v1h-1zM43 26h1v1h-1zM0 27h1v1h-1zM13 27h1v1h-1zM14 27h1v1h-1zM18 27h1v1h-1zM21 27h1v1h-1zM24 27h1v1h-1zM25 27h1v1h-1zM34 27h1v1h-1zM39 27h1v1h-1zM43 27h1v1h-1zM2 28h1v1h-1zM16 28h1v1h-1zM18 28h1v1h-1zM19 28h1v1h-1zM21 28h1v1h-1zM23 28h1v1h-1zM24 28h1v1h-1zM41 28h1v1h-1zM43 28h1v1h-1zM0 29h1v1h-1zM1 29h1v1h-1zM5 29h1v1h-1zM8 29h1v1h-1zM10 29h1v1h-1zM16 29h1v1h-1zM21 29h1v1h-1zM30 29h1v1h-1zM36 29h1v1h-1zM38 29h1v1h-1zM42 29h1v1h-1zM10 30h1v1h-1zM12 30h1v1h-1zM27 30h1v1h-1zM38 30h1v1h-1zM40 30h1v1h-1zM41 30h1v1h-1zM42 30h1v1h-1zM10 31h1v1h-1zM15 31h1v1h-1zM38 31h1v1h-1zM39 31h1v1h-1zM40 31h1v1h-1zM14 32h1v1h-1zM23 32h1v1h-1zM36 32h1v1h-1zM2 33h1v1h-1zM3 33h1v1h-1zM7 33h1v1h-1zM11 33h1v1h-1zM28 33h1v1h-1zM29 33h1v1h-1zM32 33h1v1h-1zM1 34h1v1h-1zM2 34h1v1h-1zM3 34h1v1h-1zM30 34h1v1h-1zM41 34h1v1h-1zM10 35h1v1h-1zM12 35h1v1h-1zM16 35h1v1h-1zM22 35h1v1h-1zM26 35h1v1h-1zM27 35h1v1h-1zM32 35h1v1h-1zM33 35h1v1h-1zM41 35h1v1h-1zM9 36h1v1h-1zM12 36h1v1h-1zM16 36h1v1h-1zM24 36h1v1h-1zM25 36h1v1h-1zM26 36h1v1h-1zM27 36h1v1h-1zM28 36h1v1h-1zM33 36h1v1h-1zM39 36h1v1h-1zM41 36h1v1h-1zM2 37h1v1h-1zM3 37h1v1h-1zM4 37h1v1h-1zM6 37h1v1h-1zM12 37h1v1h-1zM14 37h1v1h-1zM19 37h1v1h-1zM24 37h1v1h-1zM26 37h1v1h-1zM31 37h1v1h-1zM35 37h1v1h-1zM38 37h1v1h-1zM42 37h1v1h-1zM43 37h1v1h-1zM1 38h1v1h-1zM6 38h1v1h-1zM7 38h1v1h-1zM8 38h1v1h-1zM11 38h1v1h-1zM12 38h1v1h-1zM15 38h1v1h-1zM22 38h1v1h-1zM23 38h1v1h-1zM24 38h1v1h-1zM27 38h1v1h-1zM29 38h1v1h-1zM31 38h1v1h-1zM33 38h1v1h-1zM39 38h1v1h-1zM41 38h1v1h-1zM0 39h1v1h-1zM2 39h1v1h-1zM8 39h1v1h-1zM10 39h1v1h-1zM14 39h1v1h-1zM16 39h1v1h-1zM18 39h1v1h-1zM22 39h1v1h-1zM24 39h1v1h-1zM28 39h1v1h-1zM29 39h1v1h-1zM31 39h1v1h-1zM32 39h1v1h-1zM33 39h1v1h-1zM1 40h1v1h-1zM4 40h1v1h-1zM13 40h1v1h-1zM16 40h1v1h-1zM24 40h1v1h-1zM25 40h1v1h-1zM26 40h1v1h-1zM32 40h1v1h-1zM0 41h1v1h-1zM2 41h1v1h-1zM4 41h1v1h-1zM5 41h1v1h-1zM6 41h1v1h-1zM13 41h1v1h-1zM20 41h1v1h-1zM25 41h1v1h-1zM26 41h1v1h-1zM28 41h1v1h-1zM29 41h1v1h-1zM31 41h1v1h-1zM33 41h1v1h-1zM37 41h1v1h-1zM39 41h1v1h-1zM43 41h1v1h-1zM0 42h1v1h-1zM1 42h1v1h-1zM5 42h1v1h-1zM7 42h1v1h-1zM9 42h1v1h-1zM10 42h1v1h-1zM13 42h1v1h-1zM23 42h1v1h-1zM25 42h1v1h-1zM26 42h1v1h-1zM33 42h1v1h-1zM34 42h1v1h-1zM35 42h1v1h-1zM36 42h1v1h-1zM42 42h1v1h-1zM43 42h1v1h-1zM5 43h1v1h-1zM7 43h1v1h-1zM8 43h1v1h-1zM10 43h1v1h-1zM11 43h1v1h-1zM17 43h1v1h-1zM21 43h1v1h-1zM24 43h1v1h-1zM25 43h1v1h-1zM33 43h1v1h-1zM35 43h1v1h-1zM36 43h1v1h-1zM37 43h1v1h-1zM38 43h1v1h-1zM39 43h1v1h-1zM40 43h1v1h-1z"/><path fill="#5cc83e" d="M6 0h1v1h-1zM9 0h1v1h-1zM14 0h1v1h-1zM16 0h1v1h-1zM17 0h1v1h-1zM19 0h1v1h-1zM23 0h1v1h-1zM26 0h1v1h-1zM30 0h1v1h-1zM31 0h1v1h-1zM32 0h1v1h-1zM33 0h1v1h-1zM34 0h1v1h-1zM35 0h1v1h-1zM0 1h1v1h-1zM2 1h1v1h-1zM4 1h1v1h-1zM14 1h1v1h-1zM16 1h1v1h-1zM25 1h1v1h-1zM30 1h1v1h-1zM32 1h1v1h-1zM38 1h1v1h-1zM40 1h1v1h-1zM42 1h1v1h-1zM2 2h1v1h-1zM10 2h1v1h-1zM11 2h1v1h-1zM22 2h1v1h-1zM24 2h1v1h-1zM25 2h1v1h-1zM27 2h1v1h-1zM31 2h1v1h-1zM32 2h1v1h-1zM43 2h1v1h-1zM7 3h1v1h-1zM11 3h1v1h-1zM12 3h1v1h-1zM13 3h1v1h-1zM17 3h1v1h-1zM18 3h1v1h-1zM19 3h1v1h-1zM20 3h1v1h-1zM22 3h1v1h-1zM27 3h1v1h-1zM29 3h1v1h-1zM31 3h1v1h-1zM35 3h1v1h-1zM41 3h1v1h-1zM2 4h1v1h-1zM11 4h1v1h-1zM14 4h1v1h-1zM20 4h1v1h-1zM22 4h1v1h-1zM26 4h1v1h-1zM30 4h1v1h-1zM31 4h1v1h-1zM43 4h1v1h-1zM0 5h1v1h-1zM1 5h1v1h-1zM5 5h1v1h-1zM15 5h1v1h-1zM18 5h1v1h-1zM20 5h1v1h-1zM23 5h1v1h-1zM24 5h1v1h-1zM27 5h1v1h-1zM29 5h1v1h-1zM0 6h1v1h-1zM7 6h1v1h-1zM8 6h1v1h-1zM14 6h1v1h-1zM15 6h1v1h-1zM29 6h1v1h-1zM32 6h1v1h-1zM33 6h1v1h-1zM39 6h1v1h-1zM1 7h1v1h-1zM9 7h1v1h-1zM16 7h1v1h-1zM18 7h1v1h-1zM28 7h1v1h-1zM31 7h1v1h-1zM34 7h1v1h-1zM43 7h1v1h-1zM0 8h1v1h-1zM1 8h1v1h-1zM6 8h1v1h-1zM12 8h1v1h-1zM18 8h1v1h-1zM19 8h1v1h-1zM22 8h1v1h-1zM25 8h1v1h-1zM28 8h1v1h-1zM29 8h1v1h-1zM34 8h1v1h-1zM40 8h1v1h-1zM42 8h1v1h-1zM0 9h1v1h-1zM2 9h1v1h-1zM3 9h1v1h-1zM5 9h1v1h-1zM7 9h1v1h-1zM8 9h1v1h-1zM10 9h1v1h-1zM11 9h1v1h-1zM12 9h1v1h-1zM15 9h1v1h-1zM18 9h1v1h-1zM32 9h1v1h-1zM0 10h1v1h-1zM1 10h1v1h-1zM2 10h1v1h-1zM3 10h1v1h-1zM5 10h1v1h-1zM6 10h1v1h-1zM15 10h1v1h-1zM16 10h1v1h-1zM20 10h1v1h-1zM22 10h1v1h-1zM23 10h1v1h-1zM24 10h1v1h-1zM26 10h1v1h-1zM27 10h1v1h-1zM28 10h1v1h-1zM32 10h1v1h-1zM38 10h1v1h-1zM39 10h1v1h-1zM42 10h1v1h-1zM43 10h1v1h-1zM1 11h1v1h-1zM2 11h1v1h-1zM9 11h1v1h-1zM10 11h1v1h-1zM14 11h1v1h-1zM15 11h1v1h-1zM16 11h1v1h-1zM18 11h1v1h-1zM21 11h1v1h-1zM22 11h1v1h-1zM24 11h1v1h-1zM26 11h1v1h-1zM37 11h1v1h-1zM4 12h1v1h-1zM8 12h1v1h-1zM9 12h1v1h-1zM26 12h1v1h-1zM30 12h1v1h-1zM43 12h1v1h-1zM7 13h1v1h-1zM20 13h1v1h-1zM29 13h1v1h-1zM35 13h1v1h-1zM36 13h1v1h-1zM40 13h1v1h-1zM43 13h1v1h-1zM3 14h1v1h-1zM11 14h1v1h-1zM13 14h1v1h-1zM21 14h1v1h-1zM22 14h1v1h-1zM26 14h1v1h-1zM27 14h1v1h-1zM38 14h1v1h-1zM11 15h1v1h-1zM26 15h1v1h-1zM27 15h1v1h-1zM28 15h1v1h-1zM32 15h1v1h-1zM38 15h1v1h-1zM39 15h1v1h-1zM2 16h1v1h-1zM13 16h1v1h-1zM24 16h1v1h-1zM31 16h1v1h-1zM1 17h1v1h-1zM3 17h1v1h-1zM12 17h1v1h-1zM13 17h1v1h-1zM30 17h1v1h-1zM42 17h1v1h-1zM6 18h1v1h-1zM11 18h1v1h-1zM17 18h1v1h-1zM24 18h1v1h-1zM39 18h1v1h-1zM41 18h1v1h-1zM42 18h1v1h-1zM1 19h1v1h-1zM35 19h1v1h-1zM38 19h1v1h-1zM3 20h1v1h-1zM12 20h1v1h-1zM18 20h1v1h-1zM20 20h1v1h-1zM32 20h1v1h-1zM38 20h1v1h-1zM40 20h1v1h-1zM0 21h1v1h-1zM2 21h1v1h-1zM3 21h1v1h-1zM4 21h1v1h-1zM12 21h1v1h-1zM23 21h1v1h-1zM42 21h1v1h-1zM4 22h1v1h-1zM5 22h1v1h-1zM6 22h1v1h-1zM10 22h1v1h-1zM22 22h1v1h-1zM24 22h1v1h-1zM28 22h1v1h-1zM35 22h1v1h-1zM39 22h1v1h-1zM2 23h1v1h-1zM6 23h1v1h-1zM7 23h1v1h-1zM9 23h1v1h-1zM17 23h1v1h-1zM25 23h1v1h-1zM26 23h1v1h-1zM36 23h1v1h-1zM7 24h1v1h-1zM9 24h1v1h-1zM10 24h1v1h-1zM13 24h1v1h-1zM14 24h1v1h-1zM15 24h1v1h-1zM16 24h1v1h-1zM17 24h1v1h-1zM23 24h1v1h-1zM25 24h1v1h-1zM27 24h1v1h-1zM29 24h1v1h-1zM30 24h1v1h-1zM41 24h1v1h-1zM2 25h1v1h-1zM4 25h1v1h-1zM23 25h1v1h-1zM35 25h1v1h-1zM37 25h1v1h-1zM40 25h1v1h-1zM41 25h1v1h-1zM43 25h1v1h-1zM1 26h1v1h-1zM3 26h1v1h-1zM4 26h1v1h-1zM17 26h1v1h-1zM18 26h1v1h-1zM22 26h1v1h-1zM27 26h1v1h-1zM36 26h1v1h-1zM38 26h1v1h-1zM1 27h1v1h-1zM5 27h1v1h-1zM15 27h1v1h-1zM16 27h1v1h-1zM28 27h1v1h-1zM32 27h1v1h-1zM35 27h1v1h-1zM0 28h1v1h-1zM1 28h1v1h-1zM36 28h1v1h-1zM38 28h1v1h-1zM39 28h1v1h-1zM40 28h1v1h-1zM3 29h1v1h-1zM19 29h1v1h-1zM24 29h1v1h-1zM37 29h1v1h-1zM39 29h1v1h-1zM3 30h1v1h-1zM24 30h1v1h-1zM2 31h1v1h-1zM6 31h1v1h-1zM11 31h1v1h-1zM12 31h1v1h-1zM33 31h1v1h-1zM35 31h1v1h-1zM36 31h1v1h-1zM37 31h1v1h-1zM42 31h1v1h-1zM0 32h1v1h-1zM10 32h1v1h-1zM12 32h1v1h-1zM16 32h1v1h-1zM31 32h1v1h-1zM40 32h1v1h-1zM0 33h1v1h-1zM10 33h1v1h-1zM18 33h1v1h-1zM25 33h1v1h-1zM34 33h1v1h-1zM35 33h1v1h-1zM43 33h1v1h-1zM5 34h1v1h-1zM21 34h1v1h-1zM26 34h1v1h-1zM33 34h1v1h-1zM1 35h1v1h-1zM7 35h1v1h-1zM8 35h1v1h-1zM11 35h1v1h-1zM15 35h1v1h-1zM23 35h1v1h-1zM38 35h1v1h-1zM39 35h1v1h-1zM42 35h1v1h-1zM0 36h1v1h-1zM3 36h1v1h-1zM8 36h1v1h-1zM10 36h1v1h-1zM11 36h1v1h-1zM15 36h1v1h-1zM29 36h1v1h-1zM32 36h1v1h-1zM34 36h1v1h-1zM38 36h1v1h-1zM43 36h1v1h-1zM9 37h1v1h-1zM20 37h1v1h-1zM22 37h1v1h-1zM23 37h1v1h-1zM27 37h1v1h-1zM34 37h1v1h-1zM2 38h1v1h-1zM3 38h1v1h-1zM4 38h1v1h-1zM13 38h1v1h-1zM14 38h1v1h-1zM16 38h1v1h-1zM20 38h1v1h-1zM25 38h1v1h-1zM1 39h1v1h-1zM5 39h1v1h-1zM9 39h1v1h-1zM11 39h1v1h-1zM12 39h1v1h-1zM13 39h1v1h-1zM17 39h1v1h-1zM25 39h1v1h-1zM27 39h1v1h-1zM35 39h1v1h-1zM36 39h1v1h-1zM37 39h1v1h-1zM8 40h1v1h-1zM9 40h1v1h-1zM12 40h1v1h-1zM15 40h1v1h-1zM19 40h1v1h-1zM28 40h1v1h-1zM33 40h1v1h-1zM34 40h1v1h-1zM40 40h1v1h-1zM1 41h1v1h-1zM8 41h1v1h-1zM11 41h1v1h-1zM12 41h1v1h-1zM15 41h1v1h-1zM16 41h1v1h-1zM17 41h1v1h-1zM24 41h1v1h-1zM27 41h1v1h-1zM34 41h1v1h-1zM35 41h1v1h-1zM36 41h1v1h-1zM14 42h1v1h-1zM15 42h1v1h-1zM18 42h1v1h-1zM24 42h1v1h-1zM37 42h1v1h-1zM1 43h1v1h-1zM6 43h1v1h-1zM12 43h1v1h-1zM18 43h1v1h-1zM23 43h1v1h-1zM28 43h1v1h-1zM29 43h1v1h-1zM32 43h1v1h-1zM34 43h1v1h-1zM42 43h1v1h-1z"/></g>
<path d="M933.82 436.60v97.50M936.03 436.60v97.50M938.25 436.60v97.50M940.46 436.60v97.50M942.68 436.60v97.50M944.90 436.60v97.50M947.11 436.60v97.50M949.33 436.60v97.50M951.54 436.60v97.50M953.76 436.60v97.50M955.98 436.60v97.50M958.19 436.60v97.50M960.41 436.60v97.50M962.62 436.60v97.50M964.84 436.60v97.50M967.05 436.60v97.50M969.27 436.60v97.50M971.49 436.60v97.50M973.70 436.60v97.50M975.92 436.60v97.50M978.13 436.60v97.50M980.35 436.60v97.50M982.57 436.60v97.50M984.78 436.60v97.50M987.00 436.60v97.50M989.21 436.60v97.50M991.43 436.60v97.50M993.65 436.60v97.50M995.86 436.60v97.50M998.08 436.60v97.50M1000.29 436.60v97.50M1002.51 436.60v97.50M1004.73 436.60v97.50M1006.94 436.60v97.50M1009.16 436.60v97.50M1011.37 436.60v97.50M1013.59 436.60v97.50M1015.80 436.60v97.50M1018.02 436.60v97.50M1020.24 436.60v97.50M1022.45 436.60v97.50M1024.67 436.60v97.50M1026.88 436.60v97.50M931.60 438.82h97.50M931.60 441.03h97.50M931.60 443.25h97.50M931.60 445.46h97.50M931.60 447.68h97.50M931.60 449.90h97.50M931.60 452.11h97.50M931.60 454.33h97.50M931.60 456.54h97.50M931.60 458.76h97.50M931.60 460.98h97.50M931.60 463.19h97.50M931.60 465.41h97.50M931.60 467.62h97.50M931.60 469.84h97.50M931.60 472.05h97.50M931.60 474.27h97.50M931.60 476.49h97.50M931.60 478.70h97.50M931.60 480.92h97.50M931.60 483.13h97.50M931.60 485.35h97.50M931.60 487.57h97.50M931.60 489.78h97.50M931.60 492.00h97.50M931.60 494.21h97.50M931.60 496.43h97.50M931.60 498.65h97.50M931.60 500.86h97.50M931.60 503.08h97.50M931.60 505.29h97.50M931.60 507.51h97.50M931.60 509.73h97.50M931.60 511.94h97.50M931.60 514.16h97.50M931.60 516.37h97.50M931.60 518.59h97.50M931.60 520.80h97.50M931.60 523.02h97.50M931.60 525.24h97.50M931.60 527.45h97.50M931.60 529.67h97.50M931.60 531.88h97.50" stroke="#fff" stroke-opacity="0.3" stroke-width="0.6" fill="none"/>
<g transform="translate(1062.80 436.60) scale(2.2378 2.2114)" shape-rendering="crispEdges"><path fill="#d44a55" d="M25 0h1v1h-1zM27 0h1v1h-1zM36 0h1v1h-1zM37 0h1v1h-1zM39 0h1v1h-1zM43 0h1v1h-1zM8 1h1v1h-1zM16 1h1v1h-1zM17 1h1v1h-1zM23 1h1v1h-1zM31 1h1v1h-1zM38 1h1v1h-1zM39 1h1v1h-1zM40 1h1v1h-1zM42 1h1v1h-1zM4 2h1v1h-1zM19 2h1v1h-1zM24 2h1v1h-1zM39 2h1v1h-1zM42 2h1v1h-1zM5 3h1v1h-1zM15 3h1v1h-1zM22 3h1v1h-1zM24 3h1v1h-1zM31 3h1v1h-1zM35 3h1v1h-1zM38 3h1v1h-1zM1 4h1v1h-1zM11 4h1v1h-1zM16 4h1v1h-1zM19 4h1v1h-1zM21 4h1v1h-1zM24 4h1v1h-1zM25 4h1v1h-1zM39 4h1v1h-1zM40 4h1v1h-1zM2 5h1v1h-1zM8 5h1v1h-1zM11 5h1v1h-1zM18 5h1v1h-1zM20 5h1v1h-1zM27 5h1v1h-1zM29 5h1v1h-1zM30 5h1v1h-1zM33 5h1v1h-1zM37 5h1v1h-1zM39 5h1v1h-1zM40 5h1v1h-1zM42 5h1v1h-1zM5 6h1v1h-1zM8 6h1v1h-1zM9 6h1v1h-1zM11 6h1v1h-1zM13 6h1v1h-1zM14 6h1v1h-1zM15 6h1v1h-1zM16 6h1v1h-1zM17 6h1v1h-1zM30 6h1v1h-1zM35 6h1v1h-1zM39 6h1v1h-1zM41 6h1v1h-1zM0 7h1v1h-1zM5 7h1v1h-1zM21 7h1v1h-1zM23 7h1v1h-1zM24 7h1v1h-1zM28 7h1v1h-1zM30 7h1v1h-1zM32 7h1v1h-1zM39 7h1v1h-1zM44 7h1v1h-1zM0 8h1v1h-1zM2 8h1v1h-1zM5 8h1v1h-1zM8 8h1v1h-1zM20 8h1v1h-1zM28 8h1v1h-1zM31 8h1v1h-1zM33 8h1v1h-1zM39 8h1v1h-1zM41 8h1v1h-1zM42 8h1v1h-1zM2 9h1v1h-1zM8 9h1v1h-1zM9 9h1v1h-1zM10 9h1v1h-1zM14 9h1v1h-1zM15 9h1v1h-1zM20 9h1v1h-1zM21 9h1v1h-1zM24 9h1v1h-1zM35 9h1v1h-1zM36 9h1v1h-1zM37 9h1v1h-1zM39 9h1v1h-1zM43 9h1v1h-1zM3 10h1v1h-1zM7 10h1v1h-1zM8 10h1v1h-1zM11 10h1v1h-1zM12 10h1v1h-1zM19 10h1v1h-1zM20 10h1v1h-1zM26 10h1v1h-1zM27 10h1v1h-1zM30 10h1v1h-1zM38 10h1v1h-1zM2 11h1v1h-1zM3 11h1v1h-1zM9 11h1v1h-1zM10 11h1v1h-1zM13 11h1v1h-1zM14 11h1v1h-1zM16 11h1v1h-1zM17 11h1v1h-1zM19 11h1v1h-1zM22 11h1v1h-1zM3 12h1v1h-1zM7 12h1v1h-1zM8 12h1v1h-1zM13 12h1v1h-1zM16 12h1v1h-1zM18 12h1v1h-1zM19 12h1v1h-1zM20 12h1v1h-1zM24 12h1v1h-1zM27 12h1v1h-1zM34 12h1v1h-1zM35 12h1v1h-1zM42 12h1v1h-1zM44 12h1v1h-1zM8 13h1v1h-1zM9 13h1v1h-1zM10 13h1v1h-1zM21 13h1v1h-1zM28 13h1v1h-1zM29 13h1v1h-1zM32 13h1v1h-1zM43 13h1v1h-1zM2 14h1v1h-1zM12 14h1v1h-1zM19 14h1v1h-1zM24 14h1v1h-1zM25 14h1v1h-1zM26 14h1v1h-1zM28 14h1v1h-1zM31 14h1v1h-1zM32 14h1v1h-1zM36 14h1v1h-1zM8 15h1v1h-1zM9 15h1v1h-1zM10 15h1v1h-1zM18 15h1v1h-1zM19 15h1v1h-1zM29 15h1v1h-1zM30 15h1v1h-1zM2 16h1v1h-1zM5 16h1v1h-1zM7 16h1v1h-1zM31 16h1v1h-1zM34 16h1v1h-1zM36 16h1v1h-1zM6 17h1v1h-1zM7 17h1v1h-1zM21 17h1v1h-1zM35 17h1v1h-1zM37 17h1v1h-1zM41 17h1v1h-1zM15 18h1v1h-1zM16 18h1v1h-1zM21 18h1v1h-1zM22 18h1v1h-1zM24 18h1v1h-1zM26 18h1v1h-1zM29 18h1v1h-1zM30 18h1v1h-1zM41 18h1v1h-1zM42 18h1v1h-1zM43 18h1v1h-1zM2 19h1v1h-1zM4 19h1v1h-1zM16 19h1v1h-1zM22 19h1v1h-1zM28 19h1v1h-1zM30 19h1v1h-1zM34 19h1v1h-1zM35 19h1v1h-1zM40 19h1v1h-1zM42 19h1v1h-1zM19 20h1v1h-1zM20 20h1v1h-1zM21 20h1v1h-1zM22 20h1v1h-1zM26 20h1v1h-1zM30 20h1v1h-1zM34 20h1v1h-1zM41 20h1v1h-1zM42 20h1v1h-1zM0 21h1v1h-1zM6 21h1v1h-1zM8 21h1v1h-1zM15 21h1v1h-1zM19 21h1v1h-1zM22 21h1v1h-1zM33 21h1v1h-1zM37 21h1v1h-1zM42 21h1v1h-1zM44 21h1v1h-1zM0 22h1v1h-1zM8 22h1v1h-1zM10 22h1v1h-1zM16 22h1v1h-1zM19 22h1v1h-1zM24 22h1v1h-1zM25 22h1v1h-1zM32 22h1v1h-1zM36 22h1v1h-1zM40 22h1v1h-1zM43 22h1v1h-1zM44 22h1v1h-1zM1 23h1v1h-1zM13 23h1v1h-1zM19 23h1v1h-1zM21 23h1v1h-1zM22 23h1v1h-1zM24 23h1v1h-1zM28 23h1v1h-1zM32 23h1v1h-1zM36 23h1v1h-1zM40 23h1v1h-1zM43 23h1v1h-1zM8 24h1v1h-1zM10 24h1v1h-1zM18 24h1v1h-1zM20 24h1v1h-1zM32 24h1v1h-1zM34 24h1v1h-1zM35 24h1v1h-1zM42 24h1v1h-1zM1 25h1v1h-1zM9 25h1v1h-1zM24 25h1v1h-1zM27 25h1v1h-1zM34 25h1v1h-1zM35 25h1v1h-1zM44 25h1v1h-1zM0 26h1v1h-1zM1 26h1v1h-1zM2 26h1v1h-1zM8 26h1v1h-1zM12 26h1v1h-1zM15 26h1v1h-1zM21 26h1v1h-1zM23 26h1v1h-1zM27 26h1v1h-1zM29 26h1v1h-1zM36 26h1v1h-1zM37 26h1v1h-1zM44 26h1v1h-1zM29 27h1v1h-1zM32 27h1v1h-1zM35 27h1v1h-1zM39 27h1v1h-1zM43 27h1v1h-1zM1 28h1v1h-1zM20 28h1v1h-1zM21 28h1v1h-1zM22 28h1v1h-1zM24 28h1v1h-1zM27 28h1v1h-1zM28 28h1v1h-1zM42 28h1v1h-1zM44 28h1v1h-1zM2 29h1v1h-1zM12 29h1v1h-1zM17 29h1v1h-1zM20 29h1v1h-1zM21 29h1v1h-1zM25 29h1v1h-1zM27 29h1v1h-1zM28 29h1v1h-1zM29 29h1v1h-1zM34 29h1v1h-1zM39 29h1v1h-1zM40 29h1v1h-1zM44 29h1v1h-1zM1 30h1v1h-1zM2 30h1v1h-1zM7 30h1v1h-1zM10 30h1v1h-1zM18 30h1v1h-1zM19 30h1v1h-1zM20 30h1v1h-1zM21 30h1v1h-1zM26 30h1v1h-1zM27 30h1v1h-1zM0 31h1v1h-1zM1 31h1v1h-1zM3 31h1v1h-1zM4 31h1v1h-1zM6 31h1v1h-1zM8 31h1v1h-1zM11 31h1v1h-1zM18 31h1v1h-1zM21 31h1v1h-1zM22 31h1v1h-1zM30 31h1v1h-1zM31 31h1v1h-1zM37 31h1v1h-1zM40 31h1v1h-1zM6 32h1v1h-1zM7 32h1v1h-1zM18 32h1v1h-1zM19 32h1v1h-1zM23 32h1v1h-1zM24 32h1v1h-1zM26 32h1v1h-1zM30 32h1v1h-1zM32 32h1v1h-1zM37 32h1v1h-1zM2 33h1v1h-1zM5 33h1v1h-1zM6 33h1v1h-1zM7 33h1v1h-1zM15 33h1v1h-1zM19 33h1v1h-1zM25 33h1v1h-1zM27 33h1v1h-1zM4 34h1v1h-1zM6 34h1v1h-1zM10 34h1v1h-1zM15 34h1v1h-1zM16 34h1v1h-1zM19 34h1v1h-1zM20 34h1v1h-1zM24 34h1v1h-1zM29 34h1v1h-1zM30 34h1v1h-1zM31 34h1v1h-1zM32 34h1v1h-1zM37 34h1v1h-1zM44 34h1v1h-1zM0 35h1v1h-1zM8 35h1v1h-1zM16 35h1v1h-1zM29 35h1v1h-1zM31 35h1v1h-1zM33 35h1v1h-1zM35 35h1v1h-1zM42 35h1v1h-1zM8 36h1v1h-1zM12 36h1v1h-1zM14 36h1v1h-1zM17 36h1v1h-1zM18 36h1v1h-1zM22 36h1v1h-1zM29 36h1v1h-1zM30 36h1v1h-1zM31 36h1v1h-1zM35 36h1v1h-1zM37 36h1v1h-1zM26 37h1v1h-1zM28 37h1v1h-1zM29 37h1v1h-1zM30 37h1v1h-1zM39 37h1v1h-1zM0 38h1v1h-1zM2 38h1v1h-1zM8 38h1v1h-1zM18 38h1v1h-1zM21 38h1v1h-1zM39 38h1v1h-1zM40 38h1v1h-1zM44 38h1v1h-1zM15 39h1v1h-1zM19 39h1v1h-1zM21 39h1v1h-1zM22 39h1v1h-1zM23 39h1v1h-1zM31 39h1v1h-1zM32 39h1v1h-1zM35 39h1v1h-1zM36 39h1v1h-1zM38 39h1v1h-1zM43 39h1v1h-1zM44 39h1v1h-1zM5 40h1v1h-1zM16 40h1v1h-1zM19 40h1v1h-1zM26 40h1v1h-1zM27 40h1v1h-1zM33 40h1v1h-1zM36 40h1v1h-1zM37 40h1v1h-1zM41 40h1v1h-1zM2 41h1v1h-1zM18 41h1v1h-1zM23 41h1v1h-1zM24 41h1v1h-1zM28 41h1v1h-1zM30 41h1v1h-1zM33 41h1v1h-1zM35 41h1v1h-1zM36 41h1v1h-1zM1 42h1v1h-1zM4 42h1v1h-1zM5 42h1v1h-1zM8 42h1v1h-1zM10 42h1v1h-1zM20 42h1v1h-1zM23 42h1v1h-1zM28 42h1v1h-1zM31 42h1v1h-1zM32 42h1v1h-1zM36 42h1v1h-1zM38 42h1v1h-1zM40 42h1v1h-1zM1 43h1v1h-1zM2 43h1v1h-1zM11 43h1v1h-1zM14 43h1v1h-1zM19 43h1v1h-1zM20 43h1v1h-1zM26 43h1v1h-1zM31 43h1v1h-1zM32 43h1v1h-1zM35 43h1v1h-1zM36 43h1v1h-1zM37 43h1v1h-1zM38 43h1v1h-1zM40 43h1v1h-1zM41 43h1v1h-1zM42 43h1v1h-1z"/><path fill="#5a5ad8" d="M2 0h1v1h-1zM3 0h1v1h-1zM12 0h1v1h-1zM20 0h1v1h-1zM22 0h1v1h-1zM24 0h1v1h-1zM3 1h1v1h-1zM11 1h1v1h-1zM15 1h1v1h-1zM18 1h1v1h-1zM28 1h1v1h-1zM30 1h1v1h-1zM32 1h1v1h-1zM35 1h1v1h-1zM3 2h1v1h-1zM12 2h1v1h-1zM14 2h1v1h-1zM18 2h1v1h-1zM26 2h1v1h-1zM29 2h1v1h-1zM30 2h1v1h-1zM36 2h1v1h-1zM43 2h1v1h-1zM13 3h1v1h-1zM14 3h1v1h-1zM16 3h1v1h-1zM19 3h1v1h-1zM25 3h1v1h-1zM27 3h1v1h-1zM34 3h1v1h-1zM40 3h1v1h-1zM41 3h1v1h-1zM5 4h1v1h-1zM6 4h1v1h-1zM14 4h1v1h-1zM18 4h1v1h-1zM22 4h1v1h-1zM33 4h1v1h-1zM37 4h1v1h-1zM42 4h1v1h-1zM43 4h1v1h-1zM44 4h1v1h-1zM0 5h1v1h-1zM4 5h1v1h-1zM21 5h1v1h-1zM28 5h1v1h-1zM34 5h1v1h-1zM2 6h1v1h-1zM10 6h1v1h-1zM12 6h1v1h-1zM19 6h1v1h-1zM21 6h1v1h-1zM12 7h1v1h-1zM14 7h1v1h-1zM22 7h1v1h-1zM25 7h1v1h-1zM26 7h1v1h-1zM27 7h1v1h-1zM29 7h1v1h-1zM34 7h1v1h-1zM15 8h1v1h-1zM22 8h1v1h-1zM30 8h1v1h-1zM32 8h1v1h-1zM34 8h1v1h-1zM35 8h1v1h-1zM37 8h1v1h-1zM28 9h1v1h-1zM31 9h1v1h-1zM1 10h1v1h-1zM2 10h1v1h-1zM15 10h1v1h-1zM22 10h1v1h-1zM35 10h1v1h-1zM39 10h1v1h-1zM1 11h1v1h-1zM11 11h1v1h-1zM28 11h1v1h-1zM38 11h1v1h-1zM39 11h1v1h-1zM9 12h1v1h-1zM38 12h1v1h-1zM2 13h1v1h-1zM3 13h1v1h-1zM6 13h1v1h-1zM13 13h1v1h-1zM39 14h1v1h-1zM40 14h1v1h-1zM2 15h1v1h-1zM3 15h1v1h-1zM28 15h1v1h-1zM42 15h1v1h-1zM0 16h1v1h-1zM3 16h1v1h-1zM6 16h1v1h-1zM21 16h1v1h-1zM39 16h1v1h-1zM40 16h1v1h-1zM42 16h1v1h-1zM0 17h1v1h-1zM1 17h1v1h-1zM3 17h1v1h-1zM28 17h1v1h-1zM40 17h1v1h-1zM44 17h1v1h-1zM0 18h1v1h-1zM3 18h1v1h-1zM4 18h1v1h-1zM14 18h1v1h-1zM44 18h1v1h-1zM1 19h1v1h-1zM3 19h1v1h-1zM6 19h1v1h-1zM12 19h1v1h-1zM43 19h1v1h-1zM0 20h1v1h-1zM3 20h1v1h-1zM7 20h1v1h-1zM8 20h1v1h-1zM9 20h1v1h-1zM12 20h1v1h-1zM25 20h1v1h-1zM32 20h1v1h-1zM1 21h1v1h-1zM2 21h1v1h-1zM4 21h1v1h-1zM5 21h1v1h-1zM7 21h1v1h-1zM9 21h1v1h-1zM13 21h1v1h-1zM39 21h1v1h-1zM41 21h1v1h-1zM4 22h1v1h-1zM13 22h1v1h-1zM29 22h1v1h-1zM35 22h1v1h-1zM39 22h1v1h-1zM42 22h1v1h-1zM2 23h1v1h-1zM3 23h1v1h-1zM8 23h1v1h-1zM33 23h1v1h-1zM0 24h1v1h-1zM1 24h1v1h-1zM2 24h1v1h-1zM3 24h1v1h-1zM12 24h1v1h-1zM14 24h1v1h-1zM31 24h1v1h-1zM39 24h1v1h-1zM40 24h1v1h-1zM2 25h1v1h-1zM3 25h1v1h-1zM12 25h1v1h-1zM42 25h1v1h-1zM43 25h1v1h-1zM4 26h1v1h-1zM5 26h1v1h-1zM10 26h1v1h-1zM25 26h1v1h-1zM41 26h1v1h-1zM0 27h1v1h-1zM1 27h1v1h-1zM5 27h1v1h-1zM7 27h1v1h-1zM8 27h1v1h-1zM17 27h1v1h-1zM20 27h1v1h-1zM24 27h1v1h-1zM25 27h1v1h-1zM34 27h1v1h-1zM38 27h1v1h-1zM41 27h1v1h-1zM5 28h1v1h-1zM10 28h1v1h-1zM19 28h1v1h-1zM40 28h1v1h-1zM3 29h1v1h-1zM5 29h1v1h-1zM9 29h1v1h-1zM16 29h1v1h-1zM31 29h1v1h-1zM33 29h1v1h-1zM4 30h1v1h-1zM8 30h1v1h-1zM11 30h1v1h-1zM34 30h1v1h-1zM13 31h1v1h-1zM32 31h1v1h-1zM33 31h1v1h-1zM12 32h1v1h-1zM13 32h1v1h-1zM14 32h1v1h-1zM17 32h1v1h-1zM21 32h1v1h-1zM22 32h1v1h-1zM28 32h1v1h-1zM35 32h1v1h-1zM43 32h1v1h-1zM8 33h1v1h-1zM13 33h1v1h-1zM14 33h1v1h-1zM22 33h1v1h-1zM33 33h1v1h-1zM34 33h1v1h-1zM3 34h1v1h-1zM11 34h1v1h-1zM25 34h1v1h-1zM27 34h1v1h-1zM1 35h1v1h-1zM19 35h1v1h-1zM20 35h1v1h-1zM28 35h1v1h-1zM30 35h1v1h-1zM32 35h1v1h-1zM34 35h1v1h-1zM38 35h1v1h-1zM40 35h1v1h-1zM44 35h1v1h-1zM0 36h1v1h-1zM7 36h1v1h-1zM9 36h1v1h-1zM13 36h1v1h-1zM23 36h1v1h-1zM25 36h1v1h-1zM26 36h1v1h-1zM27 36h1v1h-1zM38 36h1v1h-1zM42 36h1v1h-1zM12 37h1v1h-1zM14 37h1v1h-1zM22 37h1v1h-1zM31 37h1v1h-1zM36 37h1v1h-1zM5 38h1v1h-1zM6 38h1v1h-1zM12 38h1v1h-1zM22 38h1v1h-1zM26 38h1v1h-1zM34 38h1v1h-1zM35 38h1v1h-1zM3 39h1v1h-1zM6 39h1v1h-1zM8 39h1v1h-1zM11 39h1v1h-1zM18 39h1v1h-1zM20 39h1v1h-1zM25 39h1v1h-1zM34 39h1v1h-1zM0 40h1v1h-1zM1 40h1v1h-1zM2 40h1v1h-1zM12 40h1v1h-1zM22 40h1v1h-1zM25 40h1v1h-1zM35 40h1v1h-1zM13 41h1v1h-1zM20 41h1v1h-1zM34 41h1v1h-1zM2 42h1v1h-1zM13 42h1v1h-1zM17 42h1v1h-1zM24 42h1v1h-1zM25 42h1v1h-1zM33 42h1v1h-1zM39 42h1v1h-1zM41 42h1v1h-1zM42 42h1v1h-1zM43 42h1v1h-1zM44 42h1v1h-1zM8 43h1v1h-1zM9 43h1v1h-1zM24 43h1v1h-1zM30 43h1v1h-1zM33 43h1v1h-1z"/><path fill="#f0ee1c" d="M15 0h1v1h-1zM30 0h1v1h-1zM11 2h1v1h-1zM17 2h1v1h-1zM6 3h1v1h-1zM17 3h1v1h-1zM9 4h1v1h-1zM6 5h1v1h-1zM15 5h1v1h-1zM22 5h1v1h-1zM43 5h1v1h-1zM44 5h1v1h-1zM24 6h1v1h-1zM42 6h1v1h-1zM43 6h1v1h-1zM8 7h1v1h-1zM10 7h1v1h-1zM11 7h1v1h-1zM41 7h1v1h-1zM43 7h1v1h-1zM10 8h1v1h-1zM14 8h1v1h-1zM17 8h1v1h-1zM23 8h1v1h-1zM44 8h1v1h-1zM26 9h1v1h-1zM32 9h1v1h-1zM40 9h1v1h-1zM41 9h1v1h-1zM32 10h1v1h-1zM40 10h1v1h-1zM41 10h1v1h-1zM42 10h1v1h-1zM43 10h1v1h-1zM40 11h1v1h-1zM43 11h1v1h-1zM4 12h1v1h-1zM5 12h1v1h-1zM41 12h1v1h-1zM43 12h1v1h-1zM0 13h1v1h-1zM19 13h1v1h-1zM27 13h1v1h-1zM38 13h1v1h-1zM41 13h1v1h-1zM42 13h1v1h-1zM6 14h1v1h-1zM8 14h1v1h-1zM18 14h1v1h-1zM38 14h1v1h-1zM43 14h1v1h-1zM5 15h1v1h-1zM6 15h1v1h-1zM41 15h1v1h-1zM28 16h1v1h-1zM5 17h1v1h-1zM23 17h1v1h-1zM27 17h1v1h-1zM42 17h1v1h-1zM43 17h1v1h-1zM2 18h1v1h-1zM38 18h1v1h-1zM26 19h1v1h-1zM33 19h1v1h-1zM21 21h1v1h-1zM35 21h1v1h-1zM40 21h1v1h-1zM43 21h1v1h-1zM34 23h1v1h-1zM44 24h1v1h-1zM36 25h1v1h-1zM40 25h1v1h-1zM42 26h1v1h-1zM19 27h1v1h-1zM30 27h1v1h-1zM44 27h1v1h-1zM7 28h1v1h-1zM7 29h1v1h-1zM8 29h1v1h-1zM10 29h1v1h-1zM42 30h1v1h-1zM43 30h1v1h-1zM44 30h1v1h-1zM38 31h1v1h-1zM28 33h1v1h-1zM29 33h1v1h-1zM7 34h1v1h-1zM9 34h1v1h-1zM17 34h1v1h-1zM18 34h1v1h-1zM4 35h1v1h-1zM6 35h1v1h-1zM7 35h1v1h-1zM9 35h1v1h-1zM10 35h1v1h-1zM12 35h1v1h-1zM3 36h1v1h-1zM4 36h1v1h-1zM5 36h1v1h-1zM6 36h1v1h-1zM11 36h1v1h-1zM15 36h1v1h-1zM16 36h1v1h-1zM36 36h1v1h-1zM7 37h1v1h-1zM15 37h1v1h-1zM16 37h1v1h-1zM23 37h1v1h-1zM3 38h1v1h-1zM15 38h1v1h-1zM16 38h1v1h-1zM36 38h1v1h-1zM4 39h1v1h-1zM5 39h1v1h-1zM7 39h1v1h-1zM9 39h1v1h-1zM16 39h1v1h-1zM4 40h1v1h-1zM9 40h1v1h-1zM11 40h1v1h-1zM14 40h1v1h-1zM15 40h1v1h-1zM7 41h1v1h-1zM9 41h1v1h-1zM10 41h1v1h-1zM25 41h1v1h-1zM40 41h1v1h-1zM12 42h1v1h-1zM7 43h1v1h-1zM16 43h1v1h-1zM22 43h1v1h-1zM25 43h1v1h-1z"/><path fill="#de55dc" d="M1 0h1v1h-1zM4 0h1v1h-1zM7 0h1v1h-1zM8 0h1v1h-1zM10 0h1v1h-1zM18 0h1v1h-1zM19 0h1v1h-1zM23 0h1v1h-1zM29 0h1v1h-1zM32 0h1v1h-1zM34 0h1v1h-1zM35 0h1v1h-1zM38 0h1v1h-1zM40 0h1v1h-1zM41 0h1v1h-1zM42 0h1v1h-1zM0 1h1v1h-1zM5 1h1v1h-1zM9 1h1v1h-1zM10 1h1v1h-1zM13 1h1v1h-1zM19 1h1v1h-1zM21 1h1v1h-1zM22 1h1v1h-1zM27 1h1v1h-1zM29 1h1v1h-1zM34 1h1v1h-1zM36 1h1v1h-1zM37 1h1v1h-1zM0 2h1v1h-1zM2 2h1v1h-1zM6 2h1v1h-1zM7 2h1v1h-1zM8 2h1v1h-1zM13 2h1v1h-1zM15 2h1v1h-1zM16 2h1v1h-1zM20 2h1v1h-1zM22 2h1v1h-1zM23 2h1v1h-1zM28 2h1v1h-1zM33 2h1v1h-1zM34 2h1v1h-1zM35 2h1v1h-1zM38 2h1v1h-1zM0 3h1v1h-1zM1 3h1v1h-1zM3 3h1v1h-1zM4 3h1v1h-1zM8 3h1v1h-1zM10 3h1v1h-1zM18 3h1v1h-1zM20 3h1v1h-1zM23 3h1v1h-1zM26 3h1v1h-1zM29 3h1v1h-1zM30 3h1v1h-1zM32 3h1v1h-1zM33 3h1v1h-1zM36 3h1v1h-1zM37 3h1v1h-1zM2 4h1v1h-1zM3 4h1v1h-1zM4 4h1v1h-1zM7 4h1v1h-1zM8 4h1v1h-1zM10 4h1v1h-1zM13 4h1v1h-1zM15 4h1v1h-1zM17 4h1v1h-1zM20 4h1v1h-1zM27 4h1v1h-1zM28 4h1v1h-1zM31 4h1v1h-1zM35 4h1v1h-1zM36 4h1v1h-1zM41 4h1v1h-1zM1 5h1v1h-1zM3 5h1v1h-1zM5 5h1v1h-1zM9 5h1v1h-1zM12 5h1v1h-1zM14 5h1v1h-1zM17 5h1v1h-1zM19 5h1v1h-1zM24 5h1v1h-1zM25 5h1v1h-1zM26 5h1v1h-1zM31 5h1v1h-1zM32 5h1v1h-1zM36 5h1v1h-1zM38 5h1v1h-1zM3 6h1v1h-1zM4 6h1v1h-1zM6 6h1v1h-1zM18 6h1v1h-1zM22 6h1v1h-1zM26 6h1v1h-1zM27 6h1v1h-1zM28 6h1v1h-1zM31 6h1v1h-1zM36 6h1v1h-1zM37 6h1v1h-1zM38 6h1v1h-1zM1 7h1v1h-1zM2 7h1v1h-1zM3 7h1v1h-1zM6 7h1v1h-1zM7 7h1v1h-1zM9 7h1v1h-1zM13 7h1v1h-1zM15 7h1v1h-1zM17 7h1v1h-1zM18 7h1v1h-1zM20 7h1v1h-1zM31 7h1v1h-1zM33 7h1v1h-1zM35 7h1v1h-1zM36 7h1v1h-1zM38 7h1v1h-1zM40 7h1v1h-1zM1 8h1v1h-1zM6 8h1v1h-1zM7 8h1v1h-1zM9 8h1v1h-1zM11 8h1v1h-1zM16 8h1v1h-1zM18 8h1v1h-1zM21 8h1v1h-1zM24 8h1v1h-1zM25 8h1v1h-1zM26 8h1v1h-1zM27 8h1v1h-1zM29 8h1v1h-1zM40 8h1v1h-1zM1 9h1v1h-1zM4 9h1v1h-1zM12 9h1v1h-1zM13 9h1v1h-1zM16 9h1v1h-1zM17 9h1v1h-1zM18 9h1v1h-1zM19 9h1v1h-1zM22 9h1v1h-1zM23 9h1v1h-1zM27 9h1v1h-1zM29 9h1v1h-1zM33 9h1v1h-1zM38 9h1v1h-1zM0 10h1v1h-1zM4 10h1v1h-1zM5 10h1v1h-1zM6 10h1v1h-1zM9 10h1v1h-1zM10 10h1v1h-1zM14 10h1v1h-1zM16 10h1v1h-1zM17 10h1v1h-1zM18 10h1v1h-1zM28 10h1v1h-1zM29 10h1v1h-1zM31 10h1v1h-1zM34 10h1v1h-1zM36 10h1v1h-1zM37 10h1v1h-1zM0 11h1v1h-1zM6 11h1v1h-1zM7 11h1v1h-1zM8 11h1v1h-1zM18 11h1v1h-1zM20 11h1v1h-1zM23 11h1v1h-1zM24 11h1v1h-1zM25 11h1v1h-1zM26 11h1v1h-1zM27 11h1v1h-1zM29 11h1v1h-1zM31 11h1v1h-1zM33 11h1v1h-1zM36 11h1v1h-1zM37 11h1v1h-1zM42 11h1v1h-1zM44 11h1v1h-1zM0 12h1v1h-1zM2 12h1v1h-1zM6 12h1v1h-1zM10 12h1v1h-1zM14 12h1v1h-1zM15 12h1v1h-1zM17 12h1v1h-1zM22 12h1v1h-1zM23 12h1v1h-1zM26 12h1v1h-1zM30 12h1v1h-1zM31 12h1v1h-1zM33 12h1v1h-1zM37 12h1v1h-1zM39 12h1v1h-1zM40 12h1v1h-1zM5 13h1v1h-1zM11 13h1v1h-1zM12 13h1v1h-1zM14 13h1v1h-1zM15 13h1v1h-1zM16 13h1v1h-1zM17 13h1v1h-1zM18 13h1v1h-1zM22 13h1v1h-1zM24 13h1v1h-1zM25 13h1v1h-1zM26 13h1v1h-1zM30 13h1v1h-1zM33 13h1v1h-1zM34 13h1v1h-1zM35 13h1v1h-1zM36 13h1v1h-1zM37 13h1v1h-1zM39 13h1v1h-1zM1 14h1v1h-1zM11 14h1v1h-1zM13 14h1v1h-1zM15 14h1v1h-1zM16 14h1v1h-1zM17 14h1v1h-1zM20 14h1v1h-1zM21 14h1v1h-1zM22 14h1v1h-1zM29 14h1v1h-1zM30 14h1v1h-1zM33 14h1v1h-1zM37 14h1v1h-1zM42 14h1v1h-1zM44 14h1v1h-1zM0 15h1v1h-1zM7 15h1v1h-1zM12 15h1v1h-1zM15 15h1v1h-1zM17 15h1v1h-1zM20 15h1v1h-1zM21 15h1v1h-1zM25 15h1v1h-1zM26 15h1v1h-1zM31 15h1v1h-1zM32 15h1v1h-1zM33 15h1v1h-1zM34 15h1v1h-1zM36 15h1v1h-1zM37 15h1v1h-1zM38 15h1v1h-1zM39 15h1v1h-1zM43 15h1v1h-1zM44 15h1v1h-1zM9 16h1v1h-1zM10 16h1v1h-1zM14 16h1v1h-1zM16 16h1v1h-1zM17 16h1v1h-1zM18 16h1v1h-1zM25 16h1v1h-1zM26 16h1v1h-1zM27 16h1v1h-1zM29 16h1v1h-1zM32 16h1v1h-1zM33 16h1v1h-1zM38 16h1v1h-1zM41 16h1v1h-1zM44 16h1v1h-1zM2 17h1v1h-1zM13 17h1v1h-1zM14 17h1v1h-1zM18 17h1v1h-1zM19 17h1v1h-1zM20 17h1v1h-1zM22 17h1v1h-1zM24 17h1v1h-1zM26 17h1v1h-1zM30 17h1v1h-1zM31 17h1v1h-1zM32 17h1v1h-1zM33 17h1v1h-1zM34 17h1v1h-1zM36 17h1v1h-1zM38 17h1v1h-1zM7 18h1v1h-1zM9 18h1v1h-1zM11 18h1v1h-1zM17 18h1v1h-1zM18 18h1v1h-1zM19 18h1v1h-1zM20 18h1v1h-1zM23 18h1v1h-1zM25 18h1v1h-1zM31 18h1v1h-1zM32 18h1v1h-1zM33 18h1v1h-1zM34 18h1v1h-1zM36 18h1v1h-1zM37 18h1v1h-1zM39 18h1v1h-1zM40 18h1v1h-1zM0 19h1v1h-1zM10 19h1v1h-1zM11 19h1v1h-1zM13 19h1v1h-1zM14 19h1v1h-1zM17 19h1v1h-1zM18 19h1v1h-1zM20 19h1v1h-1zM21 19h1v1h-1zM23 19h1v1h-1zM25 19h1v1h-1zM27 19h1v1h-1zM29 19h1v1h-1zM32 19h1v1h-1zM37 19h1v1h-1zM39 19h1v1h-1zM44 19h1v1h-1zM2 20h1v1h-1zM5 20h1v1h-1zM6 20h1v1h-1zM11 20h1v1h-1zM16 20h1v1h-1zM17 20h1v1h-1zM18 20h1v1h-1zM23 20h1v1h-1zM24 20h1v1h-1zM28 20h1v1h-1zM35 20h1v1h-1zM36 20h1v1h-1zM37 20h1v1h-1zM39 20h1v1h-1zM3 21h1v1h-1zM11 21h1v1h-1zM12 21h1v1h-1zM18 21h1v1h-1zM24 21h1v1h-1zM25 21h1v1h-1zM26 21h1v1h-1zM28 21h1v1h-1zM29 21h1v1h-1zM31 21h1v1h-1zM32 21h1v1h-1zM36 21h1v1h-1zM38 21h1v1h-1zM2 22h1v1h-1zM3 22h1v1h-1zM7 22h1v1h-1zM11 22h1v1h-1zM12 22h1v1h-1zM18 22h1v1h-1zM20 22h1v1h-1zM22 22h1v1h-1zM23 22h1v1h-1zM26 22h1v1h-1zM27 22h1v1h-1zM31 22h1v1h-1zM33 22h1v1h-1zM34 22h1v1h-1zM37 22h1v1h-1zM38 22h1v1h-1zM41 22h1v1h-1zM4 23h1v1h-1zM6 23h1v1h-1zM7 23h1v1h-1zM11 23h1v1h-1zM14 23h1v1h-1zM15 23h1v1h-1zM17 23h1v1h-1zM26 23h1v1h-1zM31 23h1v1h-1zM37 23h1v1h-1zM44 23h1v1h-1zM4 24h1v1h-1zM6 24h1v1h-1zM7 24h1v1h-1zM9 24h1v1h-1zM13 24h1v1h-1zM21 24h1v1h-1zM22 24h1v1h-1zM24 24h1v1h-1zM26 24h1v1h-1zM27 24h1v1h-1zM29 24h1v1h-1zM33 24h1v1h-1zM36 24h1v1h-1zM37 24h1v1h-1zM4 25h1v1h-1zM5 25h1v1h-1zM6 25h1v1h-1zM7 25h1v1h-1zM8 25h1v1h-1zM10 25h1v1h-1zM11 25h1v1h-1zM13 25h1v1h-1zM14 25h1v1h-1zM17 25h1v1h-1zM19 25h1v1h-1zM21 25h1v1h-1zM22 25h1v1h-1zM23 25h1v1h-1zM25 25h1v1h-1zM29 25h1v1h-1zM31 25h1v1h-1zM33 25h1v1h-1zM37 25h1v1h-1zM38 25h1v1h-1zM39 25h1v1h-1zM41 25h1v1h-1zM3 26h1v1h-1zM7 26h1v1h-1zM9 26h1v1h-1zM11 26h1v1h-1zM13 26h1v1h-1zM14 26h1v1h-1zM16 26h1v1h-1zM17 26h1v1h-1zM22 26h1v1h-1zM24 26h1v1h-1zM26 26h1v1h-1zM28 26h1v1h-1zM30 26h1v1h-1zM32 26h1v1h-1zM33 26h1v1h-1zM34 26h1v1h-1zM35 26h1v1h-1zM38 26h1v1h-1zM39 26h1v1h-1zM40 26h1v1h-1zM43 26h1v1h-1zM2 27h1v1h-1zM6 27h1v1h-1zM9 27h1v1h-1zM10 27h1v1h-1zM12 27h1v1h-1zM13 27h1v1h-1zM14 27h1v1h-1zM15 27h1v1h-1zM16 27h1v1h-1zM21 27h1v1h-1zM26 27h1v1h-1zM28 27h1v1h-1zM31 27h1v1h-1zM33 27h1v1h-1zM36 27h1v1h-1zM37 27h1v1h-1zM40 27h1v1h-1zM0 28h1v1h-1zM3 28h1v1h-1zM4 28h1v1h-1zM6 28h1v1h-1zM8 28h1v1h-1zM12 28h1v1h-1zM13 28h1v1h-1zM14 28h1v1h-1zM15 28h1v1h-1zM16 28h1v1h-1zM17 28h1v1h-1zM25 28h1v1h-1zM26 28h1v1h-1zM30 28h1v1h-1zM31 28h1v1h-1zM33 28h1v1h-1zM35 28h1v1h-1zM36 28h1v1h-1zM37 28h1v1h-1zM38 28h1v1h-1zM41 28h1v1h-1zM4 29h1v1h-1zM6 29h1v1h-1zM13 29h1v1h-1zM18 29h1v1h-1zM19 29h1v1h-1zM23 29h1v1h-1zM26 29h1v1h-1zM30 29h1v1h-1zM32 29h1v1h-1zM36 29h1v1h-1zM38 29h1v1h-1zM41 29h1v1h-1zM43 29h1v1h-1zM3 30h1v1h-1zM5 30h1v1h-1zM6 30h1v1h-1zM9 30h1v1h-1zM12 30h1v1h-1zM13 30h1v1h-1zM14 30h1v1h-1zM23 30h1v1h-1zM25 30h1v1h-1zM28 30h1v1h-1zM29 30h1v1h-1zM30 30h1v1h-1zM32 30h1v1h-1zM35 30h1v1h-1zM36 30h1v1h-1zM37 30h1v1h-1zM38 30h1v1h-1zM39 30h1v1h-1zM40 30h1v1h-1zM41 30h1v1h-1zM5 31h1v1h-1zM9 31h1v1h-1zM15 31h1v1h-1zM16 31h1v1h-1zM17 31h1v1h-1zM19 31h1v1h-1zM20 31h1v1h-1zM23 31h1v1h-1zM24 31h1v1h-1zM25 31h1v1h-1zM26 31h1v1h-1zM27 31h1v1h-1zM28 31h1v1h-1zM29 31h1v1h-1zM34 31h1v1h-1zM35 31h1v1h-1zM36 31h1v1h-1zM41 31h1v1h-1zM43 31h1v1h-1zM44 31h1v1h-1zM1 32h1v1h-1zM2 32h1v1h-1zM3 32h1v1h-1zM4 32h1v1h-1zM5 32h1v1h-1zM8 32h1v1h-1zM9 32h1v1h-1zM15 32h1v1h-1zM16 32h1v1h-1zM20 32h1v1h-1zM29 32h1v1h-1zM31 32h1v1h-1zM33 32h1v1h-1zM34 32h1v1h-1zM38 32h1v1h-1zM39 32h1v1h-1zM41 32h1v1h-1zM44 32h1v1h-1zM1 33h1v1h-1zM3 33h1v1h-1zM4 33h1v1h-1zM9 33h1v1h-1zM10 33h1v1h-1zM11 33h1v1h-1zM16 33h1v1h-1zM21 33h1v1h-1zM32 33h1v1h-1zM35 33h1v1h-1zM36 33h1v1h-1zM37 33h1v1h-1zM38 33h1v1h-1zM39 33h1v1h-1zM40 33h1v1h-1zM41 33h1v1h-1zM44 33h1v1h-1zM2 34h1v1h-1zM5 34h1v1h-1zM8 34h1v1h-1zM13 34h1v1h-1zM21 34h1v1h-1zM22 34h1v1h-1zM33 34h1v1h-1zM34 34h1v1h-1zM35 34h1v1h-1zM42 34h1v1h-1zM43 34h1v1h-1zM2 35h1v1h-1zM3 35h1v1h-1zM5 35h1v1h-1zM14 35h1v1h-1zM18 35h1v1h-1zM23 35h1v1h-1zM24 35h1v1h-1zM25 35h1v1h-1zM26 35h1v1h-1zM36 35h1v1h-1zM37 35h1v1h-1zM39 35h1v1h-1zM43 35h1v1h-1zM1 36h1v1h-1zM2 36h1v1h-1zM24 36h1v1h-1zM28 36h1v1h-1zM32 36h1v1h-1zM33 36h1v1h-1zM34 36h1v1h-1zM39 36h1v1h-1zM40 36h1v1h-1zM41 36h1v1h-1zM43 36h1v1h-1zM44 36h1v1h-1zM0 37h1v1h-1zM1 37h1v1h-1zM8 37h1v1h-1zM9 37h1v1h-1zM10 37h1v1h-1zM11 37h1v1h-1zM13 37h1v1h-1zM19 37h1v1h-1zM24 37h1v1h-1zM32 37h1v1h-1zM34 37h1v1h-1zM35 37h1v1h-1zM38 37h1v1h-1zM41 37h1v1h-1zM43 37h1v1h-1zM1 38h1v1h-1zM7 38h1v1h-1zM9 38h1v1h-1zM10 38h1v1h-1zM17 38h1v1h-1zM19 38h1v1h-1zM20 38h1v1h-1zM24 38h1v1h-1zM25 38h1v1h-1zM27 38h1v1h-1zM28 38h1v1h-1zM31 38h1v1h-1zM33 38h1v1h-1zM38 38h1v1h-1zM42 38h1v1h-1zM43 38h1v1h-1zM2 39h1v1h-1zM10 39h1v1h-1zM12 39h1v1h-1zM17 39h1v1h-1zM24 39h1v1h-1zM26 39h1v1h-1zM28 39h1v1h-1zM29 39h1v1h-1zM30 39h1v1h-1zM33 39h1v1h-1zM37 39h1v1h-1zM40 39h1v1h-1zM41 39h1v1h-1zM42 39h1v1h-1zM3 40h1v1h-1zM6 40h1v1h-1zM7 40h1v1h-1zM8 40h1v1h-1zM10 40h1v1h-1zM17 40h1v1h-1zM21 40h1v1h-1zM23 40h1v1h-1zM28 40h1v1h-1zM29 40h1v1h-1zM30 40h1v1h-1zM32 40h1v1h-1zM34 40h1v1h-1zM38 40h1v1h-1zM42 40h1v1h-1zM43 40h1v1h-1zM44 40h1v1h-1zM0 41h1v1h-1zM1 41h1v1h-1zM3 41h1v1h-1zM4 41h1v1h-1zM5 41h1v1h-1zM6 41h1v1h-1zM8 41h1v1h-1zM11 41h1v1h-1zM14 41h1v1h-1zM15 41h1v1h-1zM16 41h1v1h-1zM17 41h1v1h-1zM21 41h1v1h-1zM22 41h1v1h-1zM29 41h1v1h-1zM31 41h1v1h-1zM32 41h1v1h-1zM37 41h1v1h-1zM38 41h1v1h-1zM39 41h1v1h-1zM42 41h1v1h-1zM43 41h1v1h-1zM0 42h1v1h-1zM3 42h1v1h-1zM6 42h1v1h-1zM7 42h1v1h-1zM11 42h1v1h-1zM14 42h1v1h-1zM15 42h1v1h-1zM16 42h1v1h-1zM18 42h1v1h-1zM19 42h1v1h-1zM21 42h1v1h-1zM27 42h1v1h-1zM29 42h1v1h-1zM34 42h1v1h-1zM35 42h1v1h-1zM37 42h1v1h-1zM0 43h1v1h-1zM3 43h1v1h-1zM6 43h1v1h-1zM10 43h1v1h-1zM12 43h1v1h-1zM13 43h1v1h-1zM15 43h1v1h-1zM17 43h1v1h-1zM21 43h1v1h-1zM27 43h1v1h-1zM34 43h1v1h-1z"/><path fill="#5cc83e" d="M0 0h1v1h-1zM5 0h1v1h-1zM6 0h1v1h-1zM9 0h1v1h-1zM11 0h1v1h-1zM13 0h1v1h-1zM14 0h1v1h-1zM16 0h1v1h-1zM17 0h1v1h-1zM21 0h1v1h-1zM26 0h1v1h-1zM28 0h1v1h-1zM31 0h1v1h-1zM33 0h1v1h-1zM44 0h1v1h-1zM1 1h1v1h-1zM2 1h1v1h-1zM4 1h1v1h-1zM6 1h1v1h-1zM7 1h1v1h-1zM12 1h1v1h-1zM14 1h1v1h-1zM20 1h1v1h-1zM24 1h1v1h-1zM25 1h1v1h-1zM26 1h1v1h-1zM33 1h1v1h-1zM41 1h1v1h-1zM43 1h1v1h-1zM44 1h1v1h-1zM1 2h1v1h-1zM5 2h1v1h-1zM9 2h1v1h-1zM10 2h1v1h-1zM21 2h1v1h-1zM25 2h1v1h-1zM27 2h1v1h-1zM31 2h1v1h-1zM32 2h1v1h-1zM37 2h1v1h-1zM40 2h1v1h-1zM41 2h1v1h-1zM44 2h1v1h-1zM2 3h1v1h-1zM7 3h1v1h-1zM9 3h1v1h-1zM11 3h1v1h-1zM12 3h1v1h-1zM21 3h1v1h-1zM28 3h1v1h-1zM39 3h1v1h-1zM42 3h1v1h-1zM43 3h1v1h-1zM44 3h1v1h-1zM0 4h1v1h-1zM12 4h1v1h-1zM23 4h1v1h-1zM26 4h1v1h-1zM29 4h1v1h-1zM30 4h1v1h-1zM32 4h1v1h-1zM34 4h1v1h-1zM38 4h1v1h-1zM7 5h1v1h-1zM10 5h1v1h-1zM13 5h1v1h-1zM16 5h1v1h-1zM23 5h1v1h-1zM35 5h1v1h-1zM41 5h1v1h-1zM0 6h1v1h-1zM1 6h1v1h-1zM7 6h1v1h-1zM20 6h1v1h-1zM23 6h1v1h-1zM25 6h1v1h-1zM29 6h1v1h-1zM32 6h1v1h-1zM33 6h1v1h-1zM34 6h1v1h-1zM40 6h1v1h-1zM44 6h1v1h-1zM4 7h1v1h-1zM16 7h1v1h-1zM19 7h1v1h-1zM37 7h1v1h-1zM42 7h1v1h-1zM3 8h1v1h-1zM4 8h1v1h-1zM12 8h1v1h-1zM13 8h1v1h-1zM19 8h1v1h-1zM36 8h1v1h-1zM38 8h1v1h-1zM43 8h1v1h-1zM0 9h1v1h-1zM3 9h1v1h-1zM5 9h1v1h-1zM6 9h1v1h-1zM7 9h1v1h-1zM11 9h1v1h-1zM25 9h1v1h-1zM30 9h1v1h-1zM34 9h1v1h-1zM42 9h1v1h-1zM44 9h1v1h-1zM13 10h1v1h-1zM21 10h1v1h-1zM23 10h1v1h-1zM24 10h1v1h-1zM25 10h1v1h-1zM33 10h1v1h-1zM44 10h1v1h-1zM4 11h1v1h-1zM5 11h1v1h-1zM12 11h1v1h-1zM15 11h1v1h-1zM21 11h1v1h-1zM30 11h1v1h-1zM32 11h1v1h-1zM34 11h1v1h-1zM35 11h1v1h-1zM41 11h1v1h-1zM1 12h1v1h-1zM11 12h1v1h-1zM12 12h1v1h-1zM21 12h1v1h-1zM25 12h1v1h-1zM28 12h1v1h-1zM29 12h1v1h-1zM32 12h1v1h-1zM36 12h1v1h-1zM1 13h1v1h-1zM4 13h1v1h-1zM7 13h1v1h-1zM20 13h1v1h-1zM23 13h1v1h-1zM31 13h1v1h-1zM40 13h1v1h-1zM44 13h1v1h-1zM0 14h1v1h-1zM3 14h1v1h-1zM4 14h1v1h-1zM5 14h1v1h-1zM7 14h1v1h-1zM9 14h1v1h-1zM10 14h1v1h-1zM14 14h1v1h-1zM23 14h1v1h-1zM27 14h1v1h-1zM34 14h1v1h-1zM35 14h1v1h-1zM41 14h1v1h-1zM1 15h1v1h-1zM4 15h1v1h-1zM11 15h1v1h-1zM13 15h1v1h-1zM14 15h1v1h-1zM16 15h1v1h-1zM22 15h1v1h-1zM23 15h1v1h-1zM24 15h1v1h-1zM27 15h1v1h-1zM35 15h1v1h-1zM40 15h1v1h-1zM1 16h1v1h-1zM4 16h1v1h-1zM8 16h1v1h-1zM11 16h1v1h-1zM12 16h1v1h-1zM13 16h1v1h-1zM15 16h1v1h-1zM19 16h1v1h-1zM20 16h1v1h-1zM22 16h1v1h-1zM23 16h1v1h-1zM24 16h1v1h-1zM30 16h1v1h-1zM35 16h1v1h-1zM37 16h1v1h-1zM43 16h1v1h-1zM4 17h1v1h-1zM8 17h1v1h-1zM9 17h1v1h-1zM10 17h1v1h-1zM11 17h1v1h-1zM12 17h1v1h-1zM15 17h1v1h-1zM16 17h1v1h-1zM17 17h1v1h-1zM25 17h1v1h-1zM29 17h1v1h-1zM39 17h1v1h-1zM1 18h1v1h-1zM5 18h1v1h-1zM6 18h1v1h-1zM8 18h1v1h-1zM10 18h1v1h-1zM12 18h1v1h-1zM13 18h1v1h-1zM27 18h1v1h-1zM28 18h1v1h-1zM35 18h1v1h-1zM5 19h1v1h-1zM7 19h1v1h-1zM8 19h1v1h-1zM9 19h1v1h-1zM15 19h1v1h-1zM19 19h1v1h-1zM24 19h1v1h-1zM31 19h1v1h-1zM36 19h1v1h-1zM38 19h1v1h-1zM41 19h1v1h-1zM1 20h1v1h-1zM4 20h1v1h-1zM10 20h1v1h-1zM13 20h1v1h-1zM14 20h1v1h-1zM15 20h1v1h-1zM27 20h1v1h-1zM29 20h1v1h-1zM31 20h1v1h-1zM33 20h1v1h-1zM38 20h1v1h-1zM40 20h1v1h-1zM43 20h1v1h-1zM44 20h1v1h-1zM10 21h1v1h-1zM14 21h1v1h-1zM16 21h1v1h-1zM17 21h1v1h-1zM20 21h1v1h-1zM23 21h1v1h-1zM27 21h1v1h-1zM30 21h1v1h-1zM34 21h1v1h-1zM1 22h1v1h-1zM5 22h1v1h-1zM6 22h1v1h-1zM9 22h1v1h-1zM14 22h1v1h-1zM15 22h1v1h-1zM17 22h1v1h-1zM21 22h1v1h-1zM28 22h1v1h-1zM30 22h1v1h-1zM0 23h1v1h-1zM5 23h1v1h-1zM9 23h1v1h-1zM10 23h1v1h-1zM12 23h1v1h-1zM16 23h1v1h-1zM18 23h1v1h-1zM20 23h1v1h-1zM23 23h1v1h-1zM25 23h1v1h-1zM27 23h1v1h-1zM29 23h1v1h-1zM30 23h1v1h-1zM35 23h1v1h-1zM38 23h1v1h-1zM39 23h1v1h-1zM41 23h1v1h-1zM42 23h1v1h-1zM5 24h1v1h-1zM11 24h1v1h-1zM15 24h1v1h-1zM16 24h1v1h-1zM17 24h1v1h-1zM19 24h1v1h-1zM23 24h1v1h-1zM25 24h1v1h-1zM28 24h1v1h-1zM30 24h1v1h-1zM38 24h1v1h-1zM41 24h1v1h-1zM43 24h1v1h-1zM0 25h1v1h-1zM15 25h1v1h-1zM16 25h1v1h-1zM18 25h1v1h-1zM20 25h1v1h-1zM26 25h1v1h-1zM28 25h1v1h-1zM30 25h1v1h-1zM32 25h1v1h-1zM6 26h1v1h-1zM18 26h1v1h-1zM19 26h1v1h-1zM20 26h1v1h-1zM31 26h1v1h-1zM3 27h1v1h-1zM4 27h1v1h-1zM11 27h1v1h-1zM18 27h1v1h-1zM22 27h1v1h-1zM23 27h1v1h-1zM27 27h1v1h-1zM42 27h1v1h-1zM2 28h1v1h-1zM9 28h1v1h-1zM11 28h1v1h-1zM18 28h1v1h-1zM23 28h1v1h-1zM29 28h1v1h-1zM32 28h1v1h-1zM34 28h1v1h-1zM39 28h1v1h-1zM43 28h1v1h-1zM0 29h1v1h-1zM1 29h1v1h-1zM11 29h1v1h-1zM14 29h1v1h-1zM15 29h1v1h-1zM22 29h1v1h-1zM24 29h1v1h-1zM35 29h1v1h-1zM37 29h1v1h-1zM42 29h1v1h-1zM0 30h1v1h-1zM15 30h1v1h-1zM16 30h1v1h-1zM17 30h1v1h-1zM22 30h1v1h-1zM24 30h1v1h-1zM31 30h1v1h-1zM33 30h1v1h-1zM2 31h1v1h-1zM7 31h1v1h-1zM10 31h1v1h-1zM12 31h1v1h-1zM14 31h1v1h-1zM39 31h1v1h-1zM42 31h1v1h-1zM0 32h1v1h-1zM10 32h1v1h-1zM11 32h1v1h-1zM25 32h1v1h-1zM27 32h1v1h-1zM36 32h1v1h-1zM40 32h1v1h-1zM42 32h1v1h-1zM0 33h1v1h-1zM12 33h1v1h-1zM17 33h1v1h-1zM18 33h1v1h-1zM20 33h1v1h-1zM23 33h1v1h-1zM24 33h1v1h-1zM26 33h1v1h-1zM30 33h1v1h-1zM31 33h1v1h-1zM42 33h1v1h-1zM43 33h1v1h-1zM0 34h1v1h-1zM1 34h1v1h-1zM12 34h1v1h-1zM14 34h1v1h-1zM23 34h1v1h-1zM26 34h1v1h-1zM28 34h1v1h-1zM36 34h1v1h-1zM38 34h1v1h-1zM39 34h1v1h-1zM40 34h1v1h-1zM41 34h1v1h-1zM11 35h1v1h-1zM13 35h1v1h-1zM15 35h1v1h-1zM17 35h1v1h-1zM21 35h1v1h-1zM22 35h1v1h-1zM27 35h1v1h-1zM41 35h1v1h-1zM10 36h1v1h-1zM19 36h1v1h-1zM20 36h1v1h-1zM21 36h1v1h-1zM2 37h1v1h-1zM3 37h1v1h-1zM4 37h1v1h-1zM5 37h1v1h-1zM6 37h1v1h-1zM17 37h1v1h-1zM18 37h1v1h-1zM20 37h1v1h-1zM21 37h1v1h-1zM25 37h1v1h-1zM27 37h1v1h-1zM33 37h1v1h-1zM37 37h1v1h-1zM40 37h1v1h-1zM42 37h1v1h-1zM44 37h1v1h-1zM4 38h1v1h-1zM11 38h1v1h-1zM13 38h1v1h-1zM14 38h1v1h-1zM23 38h1v1h-1zM29 38h1v1h-1zM30 38h1v1h-1zM32 38h1v1h-1zM37 38h1v1h-1zM41 38h1v1h-1zM0 39h1v1h-1zM1 39h1v1h-1zM13 39h1v1h-1zM14 39h1v1h-1zM27 39h1v1h-1zM39 39h1v1h-1zM13 40h1v1h-1zM18 40h1v1h-1zM20 40h1v1h-1zM24 40h1v1h-1zM31 40h1v1h-1zM39 40h1v1h-1zM40 40h1v1h-1zM12 41h1v1h-1zM19 41h1v1h-1zM26 41h1v1h-1zM27 41h1v1h-1zM41 41h1v1h-1zM44 41h1v1h-1zM9 42h1v1h-1zM22 42h1v1h-1zM26 42h1v1h-1zM30 42h1v1h-1zM4 43h1v1h-1zM5 43h1v1h-1zM18 43h1v1h-1zM23 43h1v1h-1zM28 43h1v1h-1zM29 43h1v1h-1zM39 43h1v1h-1zM43 43h1v1h-1zM44 43h1v1h-1z"/></g>
<path d="M1065.04 436.60v97.30M1067.28 436.60v97.30M1069.51 436.60v97.30M1071.75 436.60v97.30M1073.99 436.60v97.30M1076.23 436.60v97.30M1078.46 436.60v97.30M1080.70 436.60v97.30M1082.94 436.60v97.30M1085.18 436.60v97.30M1087.42 436.60v97.30M1089.65 436.60v97.30M1091.89 436.60v97.30M1094.13 436.60v97.30M1096.37 436.60v97.30M1098.60 436.60v97.30M1100.84 436.60v97.30M1103.08 436.60v97.30M1105.32 436.60v97.30M1107.56 436.60v97.30M1109.79 436.60v97.30M1112.03 436.60v97.30M1114.27 436.60v97.30M1116.51 436.60v97.30M1118.74 436.60v97.30M1120.98 436.60v97.30M1123.22 436.60v97.30M1125.46 436.60v97.30M1127.70 436.60v97.30M1129.93 436.60v97.30M1132.17 436.60v97.30M1134.41 436.60v97.30M1136.65 436.60v97.30M1138.88 436.60v97.30M1141.12 436.60v97.30M1143.36 436.60v97.30M1145.60 436.60v97.30M1147.84 436.60v97.30M1150.07 436.60v97.30M1152.31 436.60v97.30M1154.55 436.60v97.30M1156.79 436.60v97.30M1159.02 436.60v97.30M1161.26 436.60v97.30M1062.80 438.81h100.70M1062.80 441.02h100.70M1062.80 443.23h100.70M1062.80 445.45h100.70M1062.80 447.66h100.70M1062.80 449.87h100.70M1062.80 452.08h100.70M1062.80 454.29h100.70M1062.80 456.50h100.70M1062.80 458.71h100.70M1062.80 460.93h100.70M1062.80 463.14h100.70M1062.80 465.35h100.70M1062.80 467.56h100.70M1062.80 469.77h100.70M1062.80 471.98h100.70M1062.80 474.19h100.70M1062.80 476.40h100.70M1062.80 478.62h100.70M1062.80 480.83h100.70M1062.80 483.04h100.70M1062.80 485.25h100.70M1062.80 487.46h100.70M1062.80 489.67h100.70M1062.80 491.88h100.70M1062.80 494.10h100.70M1062.80 496.31h100.70M1062.80 498.52h100.70M1062.80 500.73h100.70M1062.80 502.94h100.70M1062.80 505.15h100.70M1062.80 507.36h100.70M1062.80 509.58h100.70M1062.80 511.79h100.70M1062.80 514.00h100.70M1062.80 516.21h100.70M1062.80 518.42h100.70M1062.80 520.63h100.70M1062.80 522.84h100.70M1062.80 525.05h100.70M1062.80 527.27h100.70M1062.80 529.48h100.70M1062.80 531.69h100.70" stroke="#fff" stroke-opacity="0.3" stroke-width="0.6" fill="none"/>
</g>
<path d="M998.1 455.4C998.1 453.7 998.6 451.9 999.4 450.6C1000.2 449.3 1001.5 448.3 1002.9 447.8C1004.3 447.3 1006.2 447.2 1007.8 447.4C1009.4 447.6 1011.1 448.1 1012.6 449.2C1014.1 450.3 1015.4 452.6 1016.8 454.1C1018.2 455.6 1020.0 456.9 1021.0 458.2C1022.0 459.5 1023.0 460.5 1023.1 461.7C1023.2 462.9 1022.6 464.3 1021.7 465.2C1020.8 466.1 1018.5 466.1 1017.5 467.3C1016.5 468.5 1016.1 470.4 1015.4 472.1C1014.7 473.8 1014.0 475.9 1013.3 477.7C1012.6 479.5 1011.9 481.3 1011.3 483.2C1010.7 485.1 1010.1 486.9 1009.9 488.8C1009.7 490.7 1009.6 492.5 1009.9 494.3C1010.2 496.1 1010.9 498.0 1011.9 499.9C1012.9 501.8 1014.8 503.5 1016.1 505.4C1017.4 507.2 1018.4 509.1 1019.6 511.0C1020.8 512.9 1022.1 514.8 1023.1 516.6C1024.1 518.5 1025.5 520.1 1025.8 522.1C1026.1 524.1 1025.8 526.8 1025.1 528.4C1024.4 530.0 1023.0 531.2 1021.7 531.8C1020.4 532.4 1018.8 532.5 1017.5 531.8C1016.2 531.1 1014.9 529.3 1014.0 527.7C1013.1 526.1 1012.8 524.0 1011.9 522.1C1011.0 520.2 1009.5 518.5 1008.5 516.6C1007.5 514.8 1006.8 512.5 1005.7 511.0C1004.7 509.5 1003.5 507.7 1002.2 507.5C1000.9 507.3 999.7 508.6 998.1 509.6C996.5 510.7 994.4 512.5 992.5 513.8C990.6 515.1 988.8 516.4 986.9 517.3C985.0 518.2 983.5 519.0 981.3 519.1C979.1 519.2 975.8 518.9 973.5 518.2C971.2 517.6 970.0 516.0 967.7 515.2C965.4 514.4 962.5 513.1 959.9 513.3C957.3 513.5 954.6 515.1 952.2 516.2C949.8 517.3 947.2 519.9 945.4 520.1C943.6 520.3 942.3 519.0 941.5 517.2C940.7 515.4 940.7 512.3 940.5 509.4C940.3 506.5 940.0 502.4 940.5 499.7C941.0 496.9 942.1 494.4 943.4 492.9C944.7 491.4 946.5 490.7 948.3 490.9C950.1 491.1 952.2 492.8 954.1 493.9C956.0 495.0 957.3 496.7 959.9 497.7C962.5 498.7 966.5 499.9 969.7 500.1C973.0 500.3 977.2 499.4 979.4 498.7C981.6 498.0 981.8 497.1 982.8 495.7C983.8 494.3 985.0 492.3 985.6 490.2C986.2 488.1 986.1 485.3 986.3 483.2C986.5 481.1 986.4 479.2 986.9 477.7C987.4 476.2 988.0 475.1 989.0 474.2C990.0 473.3 991.7 472.9 993.2 472.1C994.7 471.3 997.0 470.3 998.1 469.3C999.2 468.3 999.9 467.3 1000.1 465.9C1000.3 464.5 999.7 462.8 999.4 461.0C999.1 459.2 998.1 457.1 998.1 455.4Z" fill="none" stroke="#000" stroke-width="2.2" stroke-dasharray="5 2.6"/>
<rect x="931.6" y="436.6" width="61.9" height="15.6" fill="#d9d9d9"/>
<text x="936.8" y="446.8" font-size="8.2">Cr-rich region</text>
<rect x="1062.8" y="436.6" width="70" height="15.1" fill="#d9d9d9"/>
<text x="1068.9" y="446.5" font-size="8.3">CSRO structure</text>
<rect x="1091" y="456" width="59.5" height="39.6" fill="none" stroke="#000" stroke-width="2" stroke-dasharray="5 3"/>
<text x="935.8" y="547.2" font-size="9.65">Annealed at <tspan font-style="italic">T</tspan>=600 K</text>
<text x="1067.5" y="547.1" font-size="9.65">Annealed at <tspan font-style="italic">T</tspan>=1100 K</text>
<!-- arrows -->
<path d="M927.50 492.00C926.04 492.17 921.67 492.21 918.75 493.00C915.83 493.79 912.71 494.88 910.00 496.75C907.29 498.62 904.58 501.33 902.50 504.25C900.42 507.17 898.75 510.92 897.50 514.25C896.25 517.58 895.52 520.92 895.00 524.25C894.48 527.58 894.38 530.92 894.38 534.25C894.38 537.58 894.48 541.12 895.00 544.25C895.52 547.38 896.46 550.29 897.50 553.00C898.54 555.71 900.00 558.25 901.25 560.50C902.50 562.75 904.12 565.04 905.00 566.50C905.88 567.96 906.25 568.79 906.50 569.25L905.62 572.75L912.25 570.75L908.12 562.75L907.75 564.25C907.29 563.83 905.98 562.90 905.00 561.75C904.02 560.60 902.88 559.04 901.88 557.38C900.88 555.71 899.83 553.94 899.00 551.75C898.17 549.56 897.38 546.54 896.88 544.25C896.38 541.96 896.06 540.71 896.00 538.00C895.94 535.29 895.94 531.33 896.50 528.00C897.06 524.67 898.06 521.12 899.38 518.00C900.69 514.88 902.50 511.79 904.38 509.25C906.25 506.71 908.23 504.48 910.62 502.75C913.02 501.02 915.94 499.77 918.75 498.88C921.56 497.98 926.04 497.62 927.50 497.38Z" fill="url(#ag)"/>
<path d="M1166.88 492.75C1167.81 492.79 1170.31 492.44 1172.50 493.00C1174.69 493.56 1177.50 494.67 1180.00 496.12C1182.50 497.58 1185.21 499.56 1187.50 501.75C1189.79 503.94 1191.98 506.54 1193.75 509.25C1195.52 511.96 1196.98 515.08 1198.12 518.00C1199.27 520.92 1200.06 523.83 1200.62 526.75C1201.19 529.67 1201.40 532.58 1201.50 535.50C1201.60 538.42 1201.50 541.33 1201.25 544.25C1201.00 547.17 1200.62 550.50 1200.00 553.00C1199.38 555.50 1198.44 557.27 1197.50 559.25C1196.56 561.23 1195.46 563.10 1194.38 564.88C1193.29 566.65 1191.56 569.04 1191.00 569.88L1191.88 571.50L1185.00 570.75L1186.88 562.75L1188.12 564.88C1188.65 564.35 1190.21 563.00 1191.25 561.75C1192.29 560.50 1193.38 559.15 1194.38 557.38C1195.38 555.60 1196.52 553.31 1197.25 551.12C1197.98 548.94 1198.44 546.85 1198.75 544.25C1199.06 541.65 1199.23 538.21 1199.12 535.50C1199.02 532.79 1198.71 530.71 1198.12 528.00C1197.54 525.29 1196.77 522.17 1195.62 519.25C1194.48 516.33 1193.02 513.21 1191.25 510.50C1189.48 507.79 1187.29 504.98 1185.00 503.00C1182.71 501.02 1180.52 499.56 1177.50 498.62C1174.48 497.69 1168.65 497.58 1166.88 497.38Z" fill="url(#ag)"/>
<!-- left chart -->
<text x="965.7" y="566.6" font-size="8.35" text-anchor="middle">Cr-rich region accelerates</text>
<text x="965.7" y="576.7" font-size="8.4" text-anchor="middle">defect evolution</text>
<rect x="913.5" y="579.9" width="116.2" height="92.9" fill="#fff" stroke="#8a8a8a" stroke-width="0.8"/>
<rect x="913.5" y="638.1" width="116.2" height="34.7" fill="#00e4ec"/>
<svg x="913.5" y="579.9" width="116.2" height="92.9" viewBox="913.5 579.9 116.2 92.9" overflow="hidden">
<path d="M960.0 579.9C960.2 580.6 961.0 582.2 961.4 584.3C961.8 586.5 962.3 589.4 962.5 592.7C962.7 595.9 962.8 600.1 962.8 603.8C962.8 607.5 962.7 611.9 962.5 614.9C962.3 617.9 962.4 619.5 961.7 621.8C960.9 624.1 959.6 626.9 957.9 628.8C956.2 630.6 954.1 631.8 951.7 632.9C949.2 634.1 945.3 634.8 943.3 635.7C941.4 636.6 940.6 637.3 939.9 638.5C939.2 639.7 939.1 641.0 939.2 642.7C939.2 644.3 941.0 646.4 940.3 648.2C939.6 650.1 937.3 652.2 935.0 653.8C932.7 655.4 928.8 656.6 926.7 657.9C924.6 659.3 922.8 660.7 922.5 662.1C922.2 663.5 923.0 664.9 924.6 666.3C926.2 667.7 930.0 669.4 932.2 670.4C934.4 671.5 936.9 672.4 937.8 672.8" fill="none" stroke="#5a5a5a" stroke-width="0.9"/>
<path d="M969.7 579.9C970.9 580.4 974.6 581.4 976.7 582.9C978.8 584.5 981.6 587.3 982.2 589.2C982.8 591.0 982.2 592.6 980.1 594.1C978.1 595.6 972.9 596.7 969.7 598.2C966.6 599.7 962.3 601.6 961.1 603.1C960.0 604.6 961.1 606.0 962.8 607.2C964.4 608.5 968.3 609.6 971.1 610.7C973.9 611.8 977.7 612.7 979.4 613.8C981.2 614.8 981.8 615.9 981.5 617.0C981.3 618.1 979.8 619.3 978.1 620.4C976.3 621.6 973.2 622.6 971.1 623.9C969.0 625.3 966.8 626.8 965.6 628.5C964.3 630.2 963.9 632.4 963.5 634.3C963.0 636.2 963.4 637.8 962.8 639.9C962.2 642.0 961.0 644.5 960.0 646.8C959.0 649.1 957.5 651.2 956.5 653.8C955.6 656.3 954.7 658.9 954.4 662.1C954.2 665.3 955.0 671.0 955.1 672.8" fill="none" stroke="#f0504a" stroke-width="0.9"/>
<path d="M973.9 579.9C975.7 580.6 981.8 582.8 985.0 584.3C988.2 585.9 991.8 587.8 993.3 589.2C994.8 590.6 994.7 591.2 994.0 592.7C993.3 594.2 990.6 596.4 989.2 598.2C987.8 600.1 986.0 601.9 985.7 603.8C985.3 605.6 986.3 607.7 987.1 609.3C987.9 611.0 990.1 612.1 990.6 613.5C991.0 614.9 991.0 616.4 989.9 617.7C988.7 618.9 986.0 620.0 983.6 621.1C981.2 622.3 977.1 623.3 975.3 624.6C973.4 625.9 972.8 627.2 972.5 628.8C972.2 630.4 973.0 632.9 973.2 634.3C973.4 635.7 974.5 636.0 973.9 637.1C973.3 638.3 972.0 639.4 969.7 641.3C967.4 643.1 963.0 646.1 960.0 648.2C957.0 650.3 953.3 651.9 951.7 653.8C950.0 655.6 950.0 657.2 950.3 659.3C950.5 661.4 951.2 664.0 953.1 666.3C954.9 668.5 960.0 671.7 961.4 672.8" fill="none" stroke="#4a78d8" stroke-width="0.9"/>
<path d="M965.6 579.9C966.9 580.6 971.3 582.4 973.9 584.3C976.4 586.2 979.8 589.0 980.8 591.3C981.9 593.6 981.1 596.1 980.1 598.2C979.2 600.3 977.2 601.9 975.3 603.8C973.3 605.6 969.8 607.5 968.3 609.3C966.8 611.2 966.0 613.3 966.2 614.9C966.5 616.5 968.2 617.7 969.7 619.1C971.2 620.4 975.0 621.8 975.3 623.2C975.5 624.6 973.2 626.1 971.1 627.4C969.0 628.7 965.6 629.7 962.8 630.9C960.0 632.0 957.2 633.1 954.4 634.3C951.7 635.6 948.4 636.9 946.1 638.5C943.8 640.1 942.9 642.0 940.6 644.1C938.2 646.1 934.1 648.9 932.2 651.0C930.4 653.1 929.9 654.7 929.4 656.6C929.0 658.4 928.8 660.3 929.4 662.1C930.1 664.0 931.9 665.9 933.6 667.7C935.3 669.4 938.8 671.9 939.9 672.8" fill="none" stroke="#4cb46a" stroke-width="0.9"/>
<path d="M976.7 579.9C978.5 580.5 984.1 582.7 987.8 583.6C991.5 584.6 995.0 584.9 998.9 585.7C1002.8 586.5 1007.7 587.3 1011.4 588.5C1015.1 589.7 1019.0 591.3 1021.1 592.7C1023.2 594.1 1023.7 595.4 1023.9 596.8C1024.1 598.2 1023.2 599.6 1022.5 601.0C1021.8 602.4 1020.1 603.3 1019.7 605.2C1019.4 607.0 1020.2 610.0 1020.4 612.1C1020.6 614.2 1021.1 615.8 1021.1 617.7C1021.1 619.5 1021.1 621.4 1020.4 623.2C1019.7 625.1 1019.1 626.9 1016.9 628.8C1014.7 630.6 1010.7 632.7 1007.2 634.3C1003.8 636.0 998.9 637.1 996.1 638.5C993.3 639.9 992.3 640.6 990.6 642.7C988.8 644.8 986.9 648.2 985.7 651.0C984.5 653.8 983.5 656.8 983.6 659.3C983.7 661.9 984.5 664.0 986.4 666.3C988.2 668.5 993.3 671.7 994.7 672.8" fill="none" stroke="#c49ae0" stroke-width="0.9"/>
<rect x="913.5" y="638.1" width="116.2" height="34.7" fill="#00e4ec" opacity="0.72"/>
</svg>
<line x1="913.5" y1="579.9" x2="913.5" y2="672.8" stroke="#333" stroke-width="0.9"/>
<line x1="913.5" y1="672.8" x2="1029.7" y2="672.8" stroke="#333" stroke-width="0.9"/>
<path d="M914.50 672.8v2.2M924.80 672.8v1.3M935.10 672.8v2.2M945.40 672.8v1.3M955.70 672.8v2.2M966.00 672.8v1.3M976.30 672.8v2.2M986.60 672.8v1.3M996.90 672.8v2.2M1007.20 672.8v1.3M1017.50 672.8v2.2M1027.80 672.8v1.3M913.5 672.80h-2.2M913.5 661.20h-1.3M913.5 649.60h-2.2M913.5 638.00h-1.3M913.5 626.40h-2.2M913.5 614.80h-1.3M913.5 603.20h-2.2M913.5 591.60h-1.3M913.5 580.00h-2.2" stroke="#333" stroke-width="0.7" fill="none"/>
<g stroke-width="0.8">
<line x1="915" y1="594" x2="925.5" y2="594" stroke="#5a5a5a"/>
<line x1="915" y1="599.8" x2="925.5" y2="599.8" stroke="#f0504a"/>
<line x1="915" y1="605.6" x2="925.5" y2="605.6" stroke="#4a78d8"/>
<line x1="915" y1="611.5" x2="925.5" y2="611.5" stroke="#4cb46a"/>
<line x1="915" y1="617.4" x2="925.5" y2="617.4" stroke="#c49ae0"/>
</g>
<g class="lg" font-family="Liberation Sans, Arial, sans-serif" font-weight="normal" font-size="5" fill="#555">
<text x="926.5" y="595.8">Interstitial-Co</text>
<text x="926.5" y="601.6">Interstitial-Ni</text>
<text x="926.5" y="607.4">Interstitial-Cr</text>
<text x="926.5" y="613.3">Interstitial-Fe</text>
<text x="926.5" y="619.2">Interstitial-Mn</text>
</g>
<g font-size="7.2" text-anchor="end">
<text x="911" y="582.4">8.0</text>
<text x="911" y="605.6">6.0</text>
<text x="911" y="628.8">4.0</text>
<text x="911" y="652.1">2.0</text>
<text x="911" y="675.3">0.0</text>
</g>
<g font-size="7.2" text-anchor="middle">
<text x="915" y="682.2">1.0</text>
<text x="935.6" y="682.2">1.5</text>
<text x="956.2" y="682.2">2.0</text>
<text x="976.8" y="682.2">2.5</text>
<text x="997.4" y="682.2">3.0</text>
<text x="1018" y="682.2">3.5</text>
</g>
<text x="1011" y="652.5" font-size="8.6" text-anchor="middle" fill="#022a32" style="stroke:#022a32">Cr-rich</text>
<text x="1011" y="662.3" font-size="8.6" text-anchor="middle" fill="#022a32" style="stroke:#022a32">region</text>
<text x="970.3" y="693.5" font-size="9.85" text-anchor="middle">Average formation energy (eV)</text>
<text transform="translate(895.8 627.3) rotate(-90)" font-size="9.85" text-anchor="middle">Interstitial pairs position</text>
<!-- right chart -->
<text x="1130.3" y="567" font-size="8.44" text-anchor="middle">CSRO &#8211; radiation damage</text>
<text x="1130.1" y="577" font-size="8.34" text-anchor="middle">competition relationship</text>
<rect x="1067.7" y="579.6" width="128.6" height="96.2" fill="url(#gr)" stroke="#222" stroke-width="0.9"/>
<line x1="1067.7" y1="675.8" x2="1196.3" y2="579.6" stroke="#111" stroke-width="1.5"/>
<path d="M1067.70 675.8v2.2M1067.7 675.80h-2.2M1083.78 675.8v1.3M1067.7 663.77h-1.3M1099.85 675.8v2.2M1067.7 651.75h-2.2M1115.92 675.8v1.3M1067.7 639.72h-1.3M1132.00 675.8v2.2M1067.7 627.70h-2.2M1148.08 675.8v1.3M1067.7 615.67h-1.3M1164.15 675.8v2.2M1067.7 603.65h-2.2M1180.23 675.8v1.3M1067.7 591.62h-1.3M1196.30 675.8v2.2M1067.7 579.60h-2.2" stroke="#222" stroke-width="0.7" fill="none"/>
<text x="1108.2" y="597.3" font-size="8.46" text-anchor="middle" fill="#012201" style="stroke:#012201">CSRO preserve</text>
<text x="1108.6" y="607" font-size="8.46" text-anchor="middle" fill="#012201" style="stroke:#012201">region</text>
<text x="1166.8" y="658" font-size="8.34" text-anchor="middle" fill="#2c0600" style="stroke:#2c0600">CSRO destroy</text>
<text x="1167" y="667.5" font-size="8.34" text-anchor="middle" fill="#2c0600" style="stroke:#2c0600">region</text>
<g font-size="6.6" text-anchor="end">
<text x="1065.5" y="581.9">0.8</text>
<text x="1065.5" y="606">0.6</text>
<text x="1065.5" y="630.2">0.4</text>
<text x="1065.5" y="654.2">0.2</text>
<text x="1065.5" y="678.3">0.0</text>
</g>
<g font-size="6.6" text-anchor="middle">
<text x="1067.7" y="683">0.0</text>
<text x="1099.9" y="683">0.2</text>
<text x="1132" y="683">0.4</text>
<text x="1164.2" y="683">0.6</text>
<text x="1196.3" y="683">0.8</text>
</g>
<text x="1082.7" y="695.6" font-size="9.7">Damage rate</text>
<text x="1139.4" y="695.6" font-size="12" font-style="italic">&#945;</text>
<text x="1146.5" y="698.8" font-size="7.3">1</text>
<text x="1147" y="692.6" font-size="6" font-style="italic">D</text>
<circle cx="1146.5" cy="686.6" r="0.45" fill="#000"/>
<text x="1155.5" y="695.6" font-size="9.7">(10<tspan font-size="5.8" dy="-3.5">8</tspan><tspan dy="3.5">/s)</tspan></text>
<g transform="translate(1051 670.8) rotate(-90)">
<text x="0" y="0" font-size="9.9">Healing rate</text>
<text x="54.4" y="0" font-size="12" font-style="italic">&#945;</text>
<text x="61.4" y="3.2" font-size="7.3">1</text>
<text x="61.8" y="-3" font-size="6" font-style="italic">H</text>
<circle cx="61.2" cy="-9" r="0.45" fill="#000"/>
<text x="68.4" y="0" font-size="9.9">(10<tspan font-size="5.8" dy="-3.5">8</tspan><tspan dy="3.5">/s)</tspan></text>
</g>
</svg>
<!--/FIG-->
</body></html>
